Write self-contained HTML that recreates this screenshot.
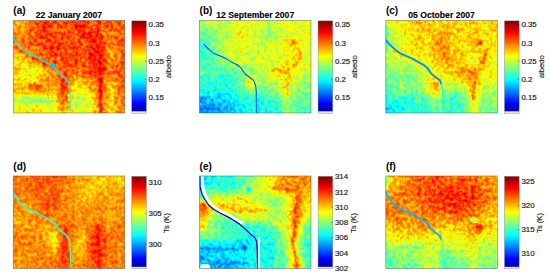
<!DOCTYPE html>
<html><head><meta charset="utf-8"><style>
html,body{margin:0;padding:0;background:#fff;width:550px;height:279px;overflow:hidden}
svg{display:block;font-family:"Liberation Sans", sans-serif}
</style></head><body>
<svg width="550" height="279" viewBox="0 0 550 279">
<defs><linearGradient id="jetg" x1="0" y1="0" x2="0" y2="1"><stop offset="0.0000" stop-color="#800000"/><stop offset="0.0156" stop-color="#8f0000"/><stop offset="0.0312" stop-color="#9e0000"/><stop offset="0.0469" stop-color="#ad0000"/><stop offset="0.0625" stop-color="#bd0000"/><stop offset="0.0781" stop-color="#cc0000"/><stop offset="0.0938" stop-color="#db0000"/><stop offset="0.1094" stop-color="#eb0000"/><stop offset="0.1250" stop-color="#fa0000"/><stop offset="0.1406" stop-color="#ff0a00"/><stop offset="0.1562" stop-color="#ff1a00"/><stop offset="0.1719" stop-color="#ff2900"/><stop offset="0.1875" stop-color="#ff3800"/><stop offset="0.2031" stop-color="#ff4700"/><stop offset="0.2188" stop-color="#ff5700"/><stop offset="0.2344" stop-color="#ff6600"/><stop offset="0.2500" stop-color="#ff7500"/><stop offset="0.2656" stop-color="#ff8500"/><stop offset="0.2812" stop-color="#ff9400"/><stop offset="0.2969" stop-color="#ffa300"/><stop offset="0.3125" stop-color="#ffb300"/><stop offset="0.3281" stop-color="#ffc200"/><stop offset="0.3438" stop-color="#ffd100"/><stop offset="0.3594" stop-color="#ffe000"/><stop offset="0.3750" stop-color="#fff000"/><stop offset="0.3906" stop-color="#ffff00"/><stop offset="0.4062" stop-color="#f0ff0f"/><stop offset="0.4219" stop-color="#e0ff1f"/><stop offset="0.4375" stop-color="#d1ff2e"/><stop offset="0.4531" stop-color="#c2ff3d"/><stop offset="0.4688" stop-color="#b3ff4c"/><stop offset="0.4844" stop-color="#a3ff5c"/><stop offset="0.5000" stop-color="#94ff6b"/><stop offset="0.5156" stop-color="#85ff7a"/><stop offset="0.5312" stop-color="#75ff8a"/><stop offset="0.5469" stop-color="#66ff99"/><stop offset="0.5625" stop-color="#57ffa8"/><stop offset="0.5781" stop-color="#47ffb8"/><stop offset="0.5938" stop-color="#38ffc7"/><stop offset="0.6094" stop-color="#29ffd6"/><stop offset="0.6250" stop-color="#19ffe6"/><stop offset="0.6406" stop-color="#0afff5"/><stop offset="0.6562" stop-color="#00faff"/><stop offset="0.6719" stop-color="#00ebff"/><stop offset="0.6875" stop-color="#00dbff"/><stop offset="0.7031" stop-color="#00ccff"/><stop offset="0.7188" stop-color="#00bdff"/><stop offset="0.7344" stop-color="#00adff"/><stop offset="0.7500" stop-color="#009eff"/><stop offset="0.7656" stop-color="#008fff"/><stop offset="0.7812" stop-color="#0080ff"/><stop offset="0.7969" stop-color="#0070ff"/><stop offset="0.8125" stop-color="#0061ff"/><stop offset="0.8281" stop-color="#0052ff"/><stop offset="0.8438" stop-color="#0042ff"/><stop offset="0.8594" stop-color="#0033ff"/><stop offset="0.8750" stop-color="#0024ff"/><stop offset="0.8906" stop-color="#0014ff"/><stop offset="0.9062" stop-color="#0005ff"/><stop offset="0.9219" stop-color="#0000f5"/><stop offset="0.9375" stop-color="#0000e6"/><stop offset="0.9531" stop-color="#0000d6"/><stop offset="0.9688" stop-color="#0000c7"/><stop offset="0.9844" stop-color="#0000b8"/><stop offset="1.0000" stop-color="#0000a8"/></linearGradient>
<filter id="ff" x="-0.2" y="-0.2" width="1.4" height="1.4" color-interpolation-filters="sRGB"><feGaussianBlur stdDeviation="0.9"/></filter>
<filter id="fs" x="-0.2" y="-0.2" width="1.4" height="1.4"><feGaussianBlur stdDeviation="0.35"/></filter>
<filter id="fb" x="-0.1" y="-0.1" width="1.2" height="1.2" color-interpolation-filters="sRGB"><feGaussianBlur stdDeviation="3.20"/></filter>
<filter id="fja" x="0" y="0" width="1" height="1" filterUnits="objectBoundingBox" color-interpolation-filters="sRGB">
<feTurbulence type="fractalNoise" baseFrequency="0.28" numOctaves="2" seed="3" result="n"/>
<feColorMatrix in="n" type="matrix" values="1 0 0 0 0  1 0 0 0 0  1 0 0 0 0  0 0 0 0 1" result="ng"/>
<feComposite in="SourceGraphic" in2="ng" operator="arithmetic" k1="0" k2="1" k3="0.280" k4="-0.140" result="f"/>
<feComponentTransfer in="f"><feFuncR type="table" tableValues="0 0 0 0 0.5 1 1 1 0.5"/><feFuncG type="table" tableValues="0 0 0.5 1 1 1 0.5 0 0"/><feFuncB type="table" tableValues="0.5 1 1 1 0.5 0 0 0 0"/><feFuncA type="identity"/></feComponentTransfer>
</filter>
<clipPath id="cpa"><rect x="13.20" y="20.40" width="111.50" height="92.60"/></clipPath>
<filter id="fjb" x="0" y="0" width="1" height="1" filterUnits="objectBoundingBox" color-interpolation-filters="sRGB">
<feTurbulence type="fractalNoise" baseFrequency="0.28" numOctaves="2" seed="10" result="n"/>
<feColorMatrix in="n" type="matrix" values="1 0 0 0 0  1 0 0 0 0  1 0 0 0 0  0 0 0 0 1" result="ng"/>
<feComposite in="SourceGraphic" in2="ng" operator="arithmetic" k1="0" k2="1" k3="0.260" k4="-0.130" result="f"/>
<feComponentTransfer in="f"><feFuncR type="table" tableValues="0 0 0 0 0.5 1 1 1 0.5"/><feFuncG type="table" tableValues="0 0 0.5 1 1 1 0.5 0 0"/><feFuncB type="table" tableValues="0.5 1 1 1 0.5 0 0 0 0"/><feFuncA type="identity"/></feComponentTransfer>
</filter>
<clipPath id="cpb"><rect x="199.50" y="20.40" width="111.50" height="92.60"/></clipPath>
<filter id="fjc" x="0" y="0" width="1" height="1" filterUnits="objectBoundingBox" color-interpolation-filters="sRGB">
<feTurbulence type="fractalNoise" baseFrequency="0.28" numOctaves="2" seed="17" result="n"/>
<feColorMatrix in="n" type="matrix" values="1 0 0 0 0  1 0 0 0 0  1 0 0 0 0  0 0 0 0 1" result="ng"/>
<feComposite in="SourceGraphic" in2="ng" operator="arithmetic" k1="0" k2="1" k3="0.260" k4="-0.130" result="f"/>
<feComponentTransfer in="f"><feFuncR type="table" tableValues="0 0 0 0 0.5 1 1 1 0.5"/><feFuncG type="table" tableValues="0 0 0.5 1 1 1 0.5 0 0"/><feFuncB type="table" tableValues="0.5 1 1 1 0.5 0 0 0 0"/><feFuncA type="identity"/></feComponentTransfer>
</filter>
<clipPath id="cpc"><rect x="385.80" y="20.40" width="111.50" height="92.60"/></clipPath>
<filter id="fjd" x="0" y="0" width="1" height="1" filterUnits="objectBoundingBox" color-interpolation-filters="sRGB">
<feTurbulence type="fractalNoise" baseFrequency="0.28" numOctaves="2" seed="24" result="n"/>
<feColorMatrix in="n" type="matrix" values="1 0 0 0 0  1 0 0 0 0  1 0 0 0 0  0 0 0 0 1" result="ng"/>
<feComposite in="SourceGraphic" in2="ng" operator="arithmetic" k1="0" k2="1" k3="0.220" k4="-0.110" result="f"/>
<feComponentTransfer in="f"><feFuncR type="table" tableValues="0 0 0 0 0.5 1 1 1 0.5"/><feFuncG type="table" tableValues="0 0 0.5 1 1 1 0.5 0 0"/><feFuncB type="table" tableValues="0.5 1 1 1 0.5 0 0 0 0"/><feFuncA type="identity"/></feComponentTransfer>
</filter>
<clipPath id="cpd"><rect x="13.20" y="175.95" width="111.50" height="92.60"/></clipPath>
<filter id="fje" x="0" y="0" width="1" height="1" filterUnits="objectBoundingBox" color-interpolation-filters="sRGB">
<feTurbulence type="fractalNoise" baseFrequency="0.28" numOctaves="2" seed="31" result="n"/>
<feColorMatrix in="n" type="matrix" values="1 0 0 0 0  1 0 0 0 0  1 0 0 0 0  0 0 0 0 1" result="ng"/>
<feComposite in="SourceGraphic" in2="ng" operator="arithmetic" k1="0" k2="1" k3="0.260" k4="-0.130" result="f"/>
<feComponentTransfer in="f"><feFuncR type="table" tableValues="0 0 0 0 0.5 1 1 1 0.5"/><feFuncG type="table" tableValues="0 0 0.5 1 1 1 0.5 0 0"/><feFuncB type="table" tableValues="0.5 1 1 1 0.5 0 0 0 0"/><feFuncA type="identity"/></feComponentTransfer>
</filter>
<clipPath id="cpe"><rect x="199.50" y="175.95" width="111.50" height="92.60"/></clipPath>
<filter id="fjf" x="0" y="0" width="1" height="1" filterUnits="objectBoundingBox" color-interpolation-filters="sRGB">
<feTurbulence type="fractalNoise" baseFrequency="0.28" numOctaves="2" seed="38" result="n"/>
<feColorMatrix in="n" type="matrix" values="1 0 0 0 0  1 0 0 0 0  1 0 0 0 0  0 0 0 0 1" result="ng"/>
<feComposite in="SourceGraphic" in2="ng" operator="arithmetic" k1="0" k2="1" k3="0.280" k4="-0.140" result="f"/>
<feComponentTransfer in="f"><feFuncR type="table" tableValues="0 0 0 0 0.5 1 1 1 0.5"/><feFuncG type="table" tableValues="0 0 0.5 1 1 1 0.5 0 0"/><feFuncB type="table" tableValues="0.5 1 1 1 0.5 0 0 0 0"/><feFuncA type="identity"/></feComponentTransfer>
</filter>
<clipPath id="cpf"><rect x="385.80" y="175.95" width="111.50" height="92.60"/></clipPath></defs>
<g clip-path="url(#cpa)"><g filter="url(#fja)"><rect x="13.20" y="20.40" width="111.50" height="92.60" fill="#808080"/><g filter="url(#fb)"><rect x="3.86" y="11.09" width="9.39" height="9.36" fill="#b2b2b2"/><rect x="13.15" y="11.09" width="9.39" height="9.36" fill="#b2b2b2"/><rect x="22.44" y="11.09" width="9.39" height="9.36" fill="#bdbdbd"/><rect x="31.73" y="11.09" width="9.39" height="9.36" fill="#cccccc"/><rect x="41.03" y="11.09" width="9.39" height="9.36" fill="#d6d6d6"/><rect x="50.32" y="11.09" width="9.39" height="9.36" fill="#cccccc"/><rect x="59.61" y="11.09" width="9.39" height="9.36" fill="#cccccc"/><rect x="68.90" y="11.09" width="9.39" height="9.36" fill="#d1d1d1"/><rect x="78.19" y="11.09" width="9.39" height="9.36" fill="#dbdbdb"/><rect x="87.48" y="11.09" width="9.39" height="9.36" fill="#c2c2c2"/><rect x="96.78" y="11.09" width="9.39" height="9.36" fill="#dbdbdb"/><rect x="106.07" y="11.09" width="9.39" height="9.36" fill="#c7c7c7"/><rect x="115.36" y="11.09" width="9.39" height="9.36" fill="#cccccc"/><rect x="124.65" y="11.09" width="9.39" height="9.36" fill="#cccccc"/><rect x="3.86" y="20.35" width="9.39" height="9.36" fill="#b2b2b2"/><rect x="13.15" y="20.35" width="9.39" height="9.36" fill="#b2b2b2"/><rect x="22.44" y="20.35" width="9.39" height="9.36" fill="#bdbdbd"/><rect x="31.73" y="20.35" width="9.39" height="9.36" fill="#cccccc"/><rect x="41.03" y="20.35" width="9.39" height="9.36" fill="#d6d6d6"/><rect x="50.32" y="20.35" width="9.39" height="9.36" fill="#cccccc"/><rect x="59.61" y="20.35" width="9.39" height="9.36" fill="#cccccc"/><rect x="68.90" y="20.35" width="9.39" height="9.36" fill="#d1d1d1"/><rect x="78.19" y="20.35" width="9.39" height="9.36" fill="#dbdbdb"/><rect x="87.48" y="20.35" width="9.39" height="9.36" fill="#c2c2c2"/><rect x="96.78" y="20.35" width="9.39" height="9.36" fill="#dbdbdb"/><rect x="106.07" y="20.35" width="9.39" height="9.36" fill="#c7c7c7"/><rect x="115.36" y="20.35" width="9.39" height="9.36" fill="#cccccc"/><rect x="124.65" y="20.35" width="9.39" height="9.36" fill="#cccccc"/><rect x="3.86" y="29.61" width="9.39" height="9.36" fill="#b8b8b8"/><rect x="13.15" y="29.61" width="9.39" height="9.36" fill="#b8b8b8"/><rect x="22.44" y="29.61" width="9.39" height="9.36" fill="#c2c2c2"/><rect x="31.73" y="29.61" width="9.39" height="9.36" fill="#cccccc"/><rect x="41.03" y="29.61" width="9.39" height="9.36" fill="#d6d6d6"/><rect x="50.32" y="29.61" width="9.39" height="9.36" fill="#c7c7c7"/><rect x="59.61" y="29.61" width="9.39" height="9.36" fill="#cccccc"/><rect x="68.90" y="29.61" width="9.39" height="9.36" fill="#c7c7c7"/><rect x="78.19" y="29.61" width="9.39" height="9.36" fill="#dbdbdb"/><rect x="87.48" y="29.61" width="9.39" height="9.36" fill="#dbdbdb"/><rect x="96.78" y="29.61" width="9.39" height="9.36" fill="#d1d1d1"/><rect x="106.07" y="29.61" width="9.39" height="9.36" fill="#bdbdbd"/><rect x="115.36" y="29.61" width="9.39" height="9.36" fill="#c7c7c7"/><rect x="124.65" y="29.61" width="9.39" height="9.36" fill="#c7c7c7"/><rect x="3.86" y="38.87" width="9.39" height="9.36" fill="#bdbdbd"/><rect x="13.15" y="38.87" width="9.39" height="9.36" fill="#bdbdbd"/><rect x="22.44" y="38.87" width="9.39" height="9.36" fill="#cccccc"/><rect x="31.73" y="38.87" width="9.39" height="9.36" fill="#c7c7c7"/><rect x="41.03" y="38.87" width="9.39" height="9.36" fill="#d1d1d1"/><rect x="50.32" y="38.87" width="9.39" height="9.36" fill="#d6d6d6"/><rect x="59.61" y="38.87" width="9.39" height="9.36" fill="#cccccc"/><rect x="68.90" y="38.87" width="9.39" height="9.36" fill="#d1d1d1"/><rect x="78.19" y="38.87" width="9.39" height="9.36" fill="#c7c7c7"/><rect x="87.48" y="38.87" width="9.39" height="9.36" fill="#d6d6d6"/><rect x="96.78" y="38.87" width="9.39" height="9.36" fill="#dbdbdb"/><rect x="106.07" y="38.87" width="9.39" height="9.36" fill="#c2c2c2"/><rect x="115.36" y="38.87" width="9.39" height="9.36" fill="#cccccc"/><rect x="124.65" y="38.87" width="9.39" height="9.36" fill="#cccccc"/><rect x="3.86" y="48.13" width="9.39" height="9.36" fill="#b2b2b2"/><rect x="13.15" y="48.13" width="9.39" height="9.36" fill="#b2b2b2"/><rect x="22.44" y="48.13" width="9.39" height="9.36" fill="#b8b8b8"/><rect x="31.73" y="48.13" width="9.39" height="9.36" fill="#c2c2c2"/><rect x="41.03" y="48.13" width="9.39" height="9.36" fill="#cccccc"/><rect x="50.32" y="48.13" width="9.39" height="9.36" fill="#d6d6d6"/><rect x="59.61" y="48.13" width="9.39" height="9.36" fill="#cccccc"/><rect x="68.90" y="48.13" width="9.39" height="9.36" fill="#cccccc"/><rect x="78.19" y="48.13" width="9.39" height="9.36" fill="#d1d1d1"/><rect x="87.48" y="48.13" width="9.39" height="9.36" fill="#dbdbdb"/><rect x="96.78" y="48.13" width="9.39" height="9.36" fill="#d6d6d6"/><rect x="106.07" y="48.13" width="9.39" height="9.36" fill="#b8b8b8"/><rect x="115.36" y="48.13" width="9.39" height="9.36" fill="#c7c7c7"/><rect x="124.65" y="48.13" width="9.39" height="9.36" fill="#c7c7c7"/><rect x="3.86" y="57.39" width="9.39" height="9.36" fill="#a6a6a6"/><rect x="13.15" y="57.39" width="9.39" height="9.36" fill="#a6a6a6"/><rect x="22.44" y="57.39" width="9.39" height="9.36" fill="#adadad"/><rect x="31.73" y="57.39" width="9.39" height="9.36" fill="#bababa"/><rect x="41.03" y="57.39" width="9.39" height="9.36" fill="#c7c7c7"/><rect x="50.32" y="57.39" width="9.39" height="9.36" fill="#cccccc"/><rect x="59.61" y="57.39" width="9.39" height="9.36" fill="#cccccc"/><rect x="68.90" y="57.39" width="9.39" height="9.36" fill="#d6d6d6"/><rect x="78.19" y="57.39" width="9.39" height="9.36" fill="#c7c7c7"/><rect x="87.48" y="57.39" width="9.39" height="9.36" fill="#d6d6d6"/><rect x="96.78" y="57.39" width="9.39" height="9.36" fill="#dbdbdb"/><rect x="106.07" y="57.39" width="9.39" height="9.36" fill="#bdbdbd"/><rect x="115.36" y="57.39" width="9.39" height="9.36" fill="#cccccc"/><rect x="124.65" y="57.39" width="9.39" height="9.36" fill="#cccccc"/><rect x="3.86" y="66.65" width="9.39" height="9.36" fill="#adadad"/><rect x="13.15" y="66.65" width="9.39" height="9.36" fill="#adadad"/><rect x="22.44" y="66.65" width="9.39" height="9.36" fill="#9c9c9c"/><rect x="31.73" y="66.65" width="9.39" height="9.36" fill="#9c9c9c"/><rect x="41.03" y="66.65" width="9.39" height="9.36" fill="#b0b0b0"/><rect x="50.32" y="66.65" width="9.39" height="9.36" fill="#b8b8b8"/><rect x="59.61" y="66.65" width="9.39" height="9.36" fill="#d1d1d1"/><rect x="68.90" y="66.65" width="9.39" height="9.36" fill="#c2c2c2"/><rect x="78.19" y="66.65" width="9.39" height="9.36" fill="#cccccc"/><rect x="87.48" y="66.65" width="9.39" height="9.36" fill="#d1d1d1"/><rect x="96.78" y="66.65" width="9.39" height="9.36" fill="#dbdbdb"/><rect x="106.07" y="66.65" width="9.39" height="9.36" fill="#c2c2c2"/><rect x="115.36" y="66.65" width="9.39" height="9.36" fill="#d1d1d1"/><rect x="124.65" y="66.65" width="9.39" height="9.36" fill="#d1d1d1"/><rect x="3.86" y="75.91" width="9.39" height="9.36" fill="#a6a6a6"/><rect x="13.15" y="75.91" width="9.39" height="9.36" fill="#a6a6a6"/><rect x="22.44" y="75.91" width="9.39" height="9.36" fill="#9c9c9c"/><rect x="31.73" y="75.91" width="9.39" height="9.36" fill="#a6a6a6"/><rect x="41.03" y="75.91" width="9.39" height="9.36" fill="#bababa"/><rect x="50.32" y="75.91" width="9.39" height="9.36" fill="#bdbdbd"/><rect x="59.61" y="75.91" width="9.39" height="9.36" fill="#d6d6d6"/><rect x="68.90" y="75.91" width="9.39" height="9.36" fill="#adadad"/><rect x="78.19" y="75.91" width="9.39" height="9.36" fill="#b8b8b8"/><rect x="87.48" y="75.91" width="9.39" height="9.36" fill="#bdbdbd"/><rect x="96.78" y="75.91" width="9.39" height="9.36" fill="#d6d6d6"/><rect x="106.07" y="75.91" width="9.39" height="9.36" fill="#b2b2b2"/><rect x="115.36" y="75.91" width="9.39" height="9.36" fill="#c7c7c7"/><rect x="124.65" y="75.91" width="9.39" height="9.36" fill="#c7c7c7"/><rect x="3.86" y="85.17" width="9.39" height="9.36" fill="#b8b8b8"/><rect x="13.15" y="85.17" width="9.39" height="9.36" fill="#b8b8b8"/><rect x="22.44" y="85.17" width="9.39" height="9.36" fill="#bdbdbd"/><rect x="31.73" y="85.17" width="9.39" height="9.36" fill="#c7c7c7"/><rect x="41.03" y="85.17" width="9.39" height="9.36" fill="#bdbdbd"/><rect x="50.32" y="85.17" width="9.39" height="9.36" fill="#b2b2b2"/><rect x="59.61" y="85.17" width="9.39" height="9.36" fill="#dbdbdb"/><rect x="68.90" y="85.17" width="9.39" height="9.36" fill="#a3a3a3"/><rect x="78.19" y="85.17" width="9.39" height="9.36" fill="#a3a3a3"/><rect x="87.48" y="85.17" width="9.39" height="9.36" fill="#b2b2b2"/><rect x="96.78" y="85.17" width="9.39" height="9.36" fill="#d6d6d6"/><rect x="106.07" y="85.17" width="9.39" height="9.36" fill="#a8a8a8"/><rect x="115.36" y="85.17" width="9.39" height="9.36" fill="#c7c7c7"/><rect x="124.65" y="85.17" width="9.39" height="9.36" fill="#c7c7c7"/><rect x="3.86" y="94.43" width="9.39" height="9.36" fill="#949494"/><rect x="13.15" y="94.43" width="9.39" height="9.36" fill="#949494"/><rect x="22.44" y="94.43" width="9.39" height="9.36" fill="#808080"/><rect x="31.73" y="94.43" width="9.39" height="9.36" fill="#858585"/><rect x="41.03" y="94.43" width="9.39" height="9.36" fill="#8f8f8f"/><rect x="50.32" y="94.43" width="9.39" height="9.36" fill="#9e9e9e"/><rect x="59.61" y="94.43" width="9.39" height="9.36" fill="#d1d1d1"/><rect x="68.90" y="94.43" width="9.39" height="9.36" fill="#949494"/><rect x="78.19" y="94.43" width="9.39" height="9.36" fill="#8c8c8c"/><rect x="87.48" y="94.43" width="9.39" height="9.36" fill="#9e9e9e"/><rect x="96.78" y="94.43" width="9.39" height="9.36" fill="#cccccc"/><rect x="106.07" y="94.43" width="9.39" height="9.36" fill="#a8a8a8"/><rect x="115.36" y="94.43" width="9.39" height="9.36" fill="#c2c2c2"/><rect x="124.65" y="94.43" width="9.39" height="9.36" fill="#c2c2c2"/><rect x="3.86" y="103.69" width="9.39" height="9.36" fill="#9e9e9e"/><rect x="13.15" y="103.69" width="9.39" height="9.36" fill="#9e9e9e"/><rect x="22.44" y="103.69" width="9.39" height="9.36" fill="#a3a3a3"/><rect x="31.73" y="103.69" width="9.39" height="9.36" fill="#a8a8a8"/><rect x="41.03" y="103.69" width="9.39" height="9.36" fill="#9e9e9e"/><rect x="50.32" y="103.69" width="9.39" height="9.36" fill="#9e9e9e"/><rect x="59.61" y="103.69" width="9.39" height="9.36" fill="#bdbdbd"/><rect x="68.90" y="103.69" width="9.39" height="9.36" fill="#999999"/><rect x="78.19" y="103.69" width="9.39" height="9.36" fill="#949494"/><rect x="87.48" y="103.69" width="9.39" height="9.36" fill="#9e9e9e"/><rect x="96.78" y="103.69" width="9.39" height="9.36" fill="#c7c7c7"/><rect x="106.07" y="103.69" width="9.39" height="9.36" fill="#a3a3a3"/><rect x="115.36" y="103.69" width="9.39" height="9.36" fill="#bdbdbd"/><rect x="124.65" y="103.69" width="9.39" height="9.36" fill="#bdbdbd"/><rect x="3.86" y="112.95" width="9.39" height="9.36" fill="#9e9e9e"/><rect x="13.15" y="112.95" width="9.39" height="9.36" fill="#9e9e9e"/><rect x="22.44" y="112.95" width="9.39" height="9.36" fill="#a3a3a3"/><rect x="31.73" y="112.95" width="9.39" height="9.36" fill="#a8a8a8"/><rect x="41.03" y="112.95" width="9.39" height="9.36" fill="#9e9e9e"/><rect x="50.32" y="112.95" width="9.39" height="9.36" fill="#9e9e9e"/><rect x="59.61" y="112.95" width="9.39" height="9.36" fill="#bdbdbd"/><rect x="68.90" y="112.95" width="9.39" height="9.36" fill="#999999"/><rect x="78.19" y="112.95" width="9.39" height="9.36" fill="#949494"/><rect x="87.48" y="112.95" width="9.39" height="9.36" fill="#9e9e9e"/><rect x="96.78" y="112.95" width="9.39" height="9.36" fill="#c7c7c7"/><rect x="106.07" y="112.95" width="9.39" height="9.36" fill="#a3a3a3"/><rect x="115.36" y="112.95" width="9.39" height="9.36" fill="#bdbdbd"/><rect x="124.65" y="112.95" width="9.39" height="9.36" fill="#bdbdbd"/></g><g filter="url(#ff)"><polyline points="13.04,41.20 15.88,45.81 19.57,49.63 22.73,52.67 26.59,55.41 31.78,57.71 38.56,60.65 44.99,64.41 50.16,67.05" fill="none" stroke="#dbdbdb" stroke-width="1.30" stroke-linejoin="round" stroke-linecap="round"/><polyline points="102.20,19.40 103.90,33.60 107.20,46.70 110.50,56.60 108.80,66.40 105.50,76.40 103.90,89.40 102.20,113.40" fill="none" stroke="#adadad" stroke-width="1.40" stroke-linejoin="round" stroke-linecap="round"/><polyline points="99.70,54.40 100.20,70.40 100.70,90.40 100.70,112.40" fill="none" stroke="#e6e6e6" stroke-width="2.20" stroke-linejoin="round" stroke-linecap="round"/><polyline points="112.10,40.10 115.40,50.00 118.70,63.20" fill="none" stroke="#b2b2b2" stroke-width="1.20" stroke-linejoin="round" stroke-linecap="round"/><polyline points="21.20,101.40 27.20,102.20 33.20,100.90 41.20,101.60 53.20,100.90" fill="none" stroke="#737373" stroke-width="1.80" stroke-linejoin="round" stroke-linecap="round"/><ellipse cx="35.20" cy="86.40" rx="6.00" ry="2.50" fill="#d1d1d1"/></g></g></g>
<g clip-path="url(#cpa)" transform="translate(0.00,0.00)">
<g transform="translate(13.20,20.40)">
<polyline points="-1.00,13.80 1.80,19.60 4.50,24.00 8.00,27.60 11.00,30.50 14.50,33.00 19.50,35.20 26.40,38.20 32.90,42.00 38.00,44.60 41.50,47.50 45.50,53.30 50.30,57.10 54.10,60.00 55.60,63.70" fill="none" stroke="#00e5ff" stroke-width="1.25" stroke-opacity="1.00" stroke-linejoin="round" stroke-linecap="round" filter="url(#fs)"/>
<polyline points="55.60,63.70 56.60,67.50 57.00,71.30 57.20,78.90 57.50,86.50 57.80,93.00" fill="none" stroke="#2effd1" stroke-width="0.90" stroke-opacity="1.00" stroke-linejoin="round" stroke-linecap="round" filter="url(#fs)"/>
<ellipse cx="39.5" cy="44.8" rx="3.0" ry="1.9" transform="rotate(30 39.5 44.8)" fill="#00c7ff" filter="url(#fs)"/>
</g></g>
<rect x="13.20" y="20.40" width="111.50" height="92.60" fill="none" stroke="#444" stroke-width="0.6" stroke-opacity="0.7"/>
<text x="13.30" y="14.10" font-size="10" font-weight="bold" fill="#000">(a)</text>
<text x="68.95" y="17.60" font-size="8.6" font-weight="bold" fill="#000" stroke="#000" stroke-width="0.12" text-anchor="middle">22 January 2007</text>
<rect x="131.80" y="20.90" width="14.50" height="92.30" fill="#ececf0"/>
<rect x="131.80" y="20.90" width="14.50" height="90.40" fill="url(#jetg)"/>
<rect x="131.80" y="20.90" width="14.50" height="92.30" fill="none" stroke="#666" stroke-width="0.5" stroke-opacity="0.7"/>
<line x1="144.90" y1="24.55" x2="146.30" y2="24.55" stroke="#222" stroke-width="0.6" stroke-opacity="0.8"/>
<text x="148.60" y="27.30" font-size="7.9" fill="#222" stroke="#222" stroke-width="0.18">0.35</text>
<line x1="144.90" y1="42.80" x2="146.30" y2="42.80" stroke="#222" stroke-width="0.6" stroke-opacity="0.8"/>
<text x="148.60" y="45.55" font-size="7.9" fill="#222" stroke="#222" stroke-width="0.18">0.3</text>
<line x1="144.90" y1="61.05" x2="146.30" y2="61.05" stroke="#222" stroke-width="0.6" stroke-opacity="0.8"/>
<text x="148.60" y="63.80" font-size="7.9" fill="#222" stroke="#222" stroke-width="0.18">0.25</text>
<line x1="144.90" y1="79.30" x2="146.30" y2="79.30" stroke="#222" stroke-width="0.6" stroke-opacity="0.8"/>
<text x="148.60" y="82.05" font-size="7.9" fill="#222" stroke="#222" stroke-width="0.18">0.2</text>
<line x1="144.90" y1="97.55" x2="146.30" y2="97.55" stroke="#222" stroke-width="0.6" stroke-opacity="0.8"/>
<text x="148.60" y="100.30" font-size="7.9" fill="#222" stroke="#222" stroke-width="0.18">0.15</text>
<text x="0" y="0" font-size="7.6" fill="#222" stroke="#222" stroke-width="0.15" text-anchor="middle" transform="translate(171.00,66.70) rotate(-90)">albedo</text>
<g clip-path="url(#cpb)"><g filter="url(#fjb)"><rect x="199.50" y="20.40" width="111.50" height="92.60" fill="#808080"/><g filter="url(#fb)"><rect x="190.16" y="11.09" width="9.39" height="9.36" fill="#858585"/><rect x="199.45" y="11.09" width="9.39" height="9.36" fill="#858585"/><rect x="208.74" y="11.09" width="9.39" height="9.36" fill="#949494"/><rect x="218.03" y="11.09" width="9.39" height="9.36" fill="#8c8c8c"/><rect x="227.32" y="11.09" width="9.39" height="9.36" fill="#999999"/><rect x="236.62" y="11.09" width="9.39" height="9.36" fill="#999999"/><rect x="245.91" y="11.09" width="9.39" height="9.36" fill="#999999"/><rect x="255.20" y="11.09" width="9.39" height="9.36" fill="#999999"/><rect x="264.49" y="11.09" width="9.39" height="9.36" fill="#8f8f8f"/><rect x="273.78" y="11.09" width="9.39" height="9.36" fill="#949494"/><rect x="283.07" y="11.09" width="9.39" height="9.36" fill="#999999"/><rect x="292.37" y="11.09" width="9.39" height="9.36" fill="#999999"/><rect x="301.66" y="11.09" width="9.39" height="9.36" fill="#999999"/><rect x="310.95" y="11.09" width="9.39" height="9.36" fill="#999999"/><rect x="190.16" y="20.35" width="9.39" height="9.36" fill="#858585"/><rect x="199.45" y="20.35" width="9.39" height="9.36" fill="#858585"/><rect x="208.74" y="20.35" width="9.39" height="9.36" fill="#949494"/><rect x="218.03" y="20.35" width="9.39" height="9.36" fill="#8c8c8c"/><rect x="227.32" y="20.35" width="9.39" height="9.36" fill="#999999"/><rect x="236.62" y="20.35" width="9.39" height="9.36" fill="#999999"/><rect x="245.91" y="20.35" width="9.39" height="9.36" fill="#999999"/><rect x="255.20" y="20.35" width="9.39" height="9.36" fill="#999999"/><rect x="264.49" y="20.35" width="9.39" height="9.36" fill="#8f8f8f"/><rect x="273.78" y="20.35" width="9.39" height="9.36" fill="#949494"/><rect x="283.07" y="20.35" width="9.39" height="9.36" fill="#999999"/><rect x="292.37" y="20.35" width="9.39" height="9.36" fill="#999999"/><rect x="301.66" y="20.35" width="9.39" height="9.36" fill="#999999"/><rect x="310.95" y="20.35" width="9.39" height="9.36" fill="#999999"/><rect x="190.16" y="29.61" width="9.39" height="9.36" fill="#787878"/><rect x="199.45" y="29.61" width="9.39" height="9.36" fill="#787878"/><rect x="208.74" y="29.61" width="9.39" height="9.36" fill="#808080"/><rect x="218.03" y="29.61" width="9.39" height="9.36" fill="#8c8c8c"/><rect x="227.32" y="29.61" width="9.39" height="9.36" fill="#8f8f8f"/><rect x="236.62" y="29.61" width="9.39" height="9.36" fill="#a3a3a3"/><rect x="245.91" y="29.61" width="9.39" height="9.36" fill="#999999"/><rect x="255.20" y="29.61" width="9.39" height="9.36" fill="#8f8f8f"/><rect x="264.49" y="29.61" width="9.39" height="9.36" fill="#808080"/><rect x="273.78" y="29.61" width="9.39" height="9.36" fill="#8f8f8f"/><rect x="283.07" y="29.61" width="9.39" height="9.36" fill="#999999"/><rect x="292.37" y="29.61" width="9.39" height="9.36" fill="#9e9e9e"/><rect x="301.66" y="29.61" width="9.39" height="9.36" fill="#999999"/><rect x="310.95" y="29.61" width="9.39" height="9.36" fill="#999999"/><rect x="190.16" y="38.87" width="9.39" height="9.36" fill="#6e6e6e"/><rect x="199.45" y="38.87" width="9.39" height="9.36" fill="#6e6e6e"/><rect x="208.74" y="38.87" width="9.39" height="9.36" fill="#808080"/><rect x="218.03" y="38.87" width="9.39" height="9.36" fill="#8c8c8c"/><rect x="227.32" y="38.87" width="9.39" height="9.36" fill="#999999"/><rect x="236.62" y="38.87" width="9.39" height="9.36" fill="#999999"/><rect x="245.91" y="38.87" width="9.39" height="9.36" fill="#999999"/><rect x="255.20" y="38.87" width="9.39" height="9.36" fill="#8f8f8f"/><rect x="264.49" y="38.87" width="9.39" height="9.36" fill="#949494"/><rect x="273.78" y="38.87" width="9.39" height="9.36" fill="#999999"/><rect x="283.07" y="38.87" width="9.39" height="9.36" fill="#a8a8a8"/><rect x="292.37" y="38.87" width="9.39" height="9.36" fill="#9e9e9e"/><rect x="301.66" y="38.87" width="9.39" height="9.36" fill="#999999"/><rect x="310.95" y="38.87" width="9.39" height="9.36" fill="#999999"/><rect x="190.16" y="48.13" width="9.39" height="9.36" fill="#6b6b6b"/><rect x="199.45" y="48.13" width="9.39" height="9.36" fill="#6b6b6b"/><rect x="208.74" y="48.13" width="9.39" height="9.36" fill="#787878"/><rect x="218.03" y="48.13" width="9.39" height="9.36" fill="#8c8c8c"/><rect x="227.32" y="48.13" width="9.39" height="9.36" fill="#999999"/><rect x="236.62" y="48.13" width="9.39" height="9.36" fill="#999999"/><rect x="245.91" y="48.13" width="9.39" height="9.36" fill="#8f8f8f"/><rect x="255.20" y="48.13" width="9.39" height="9.36" fill="#999999"/><rect x="264.49" y="48.13" width="9.39" height="9.36" fill="#999999"/><rect x="273.78" y="48.13" width="9.39" height="9.36" fill="#999999"/><rect x="283.07" y="48.13" width="9.39" height="9.36" fill="#9e9e9e"/><rect x="292.37" y="48.13" width="9.39" height="9.36" fill="#a8a8a8"/><rect x="301.66" y="48.13" width="9.39" height="9.36" fill="#949494"/><rect x="310.95" y="48.13" width="9.39" height="9.36" fill="#949494"/><rect x="190.16" y="57.39" width="9.39" height="9.36" fill="#6b6b6b"/><rect x="199.45" y="57.39" width="9.39" height="9.36" fill="#6b6b6b"/><rect x="208.74" y="57.39" width="9.39" height="9.36" fill="#757575"/><rect x="218.03" y="57.39" width="9.39" height="9.36" fill="#808080"/><rect x="227.32" y="57.39" width="9.39" height="9.36" fill="#8c8c8c"/><rect x="236.62" y="57.39" width="9.39" height="9.36" fill="#999999"/><rect x="245.91" y="57.39" width="9.39" height="9.36" fill="#8f8f8f"/><rect x="255.20" y="57.39" width="9.39" height="9.36" fill="#999999"/><rect x="264.49" y="57.39" width="9.39" height="9.36" fill="#949494"/><rect x="273.78" y="57.39" width="9.39" height="9.36" fill="#999999"/><rect x="283.07" y="57.39" width="9.39" height="9.36" fill="#a1a1a1"/><rect x="292.37" y="57.39" width="9.39" height="9.36" fill="#a8a8a8"/><rect x="301.66" y="57.39" width="9.39" height="9.36" fill="#949494"/><rect x="310.95" y="57.39" width="9.39" height="9.36" fill="#949494"/><rect x="190.16" y="66.65" width="9.39" height="9.36" fill="#737373"/><rect x="199.45" y="66.65" width="9.39" height="9.36" fill="#737373"/><rect x="208.74" y="66.65" width="9.39" height="9.36" fill="#787878"/><rect x="218.03" y="66.65" width="9.39" height="9.36" fill="#707070"/><rect x="227.32" y="66.65" width="9.39" height="9.36" fill="#757575"/><rect x="236.62" y="66.65" width="9.39" height="9.36" fill="#808080"/><rect x="245.91" y="66.65" width="9.39" height="9.36" fill="#858585"/><rect x="255.20" y="66.65" width="9.39" height="9.36" fill="#8c8c8c"/><rect x="264.49" y="66.65" width="9.39" height="9.36" fill="#999999"/><rect x="273.78" y="66.65" width="9.39" height="9.36" fill="#a8a8a8"/><rect x="283.07" y="66.65" width="9.39" height="9.36" fill="#adadad"/><rect x="292.37" y="66.65" width="9.39" height="9.36" fill="#999999"/><rect x="301.66" y="66.65" width="9.39" height="9.36" fill="#949494"/><rect x="310.95" y="66.65" width="9.39" height="9.36" fill="#949494"/><rect x="190.16" y="75.91" width="9.39" height="9.36" fill="#6b6b6b"/><rect x="199.45" y="75.91" width="9.39" height="9.36" fill="#6b6b6b"/><rect x="208.74" y="75.91" width="9.39" height="9.36" fill="#6b6b6b"/><rect x="218.03" y="75.91" width="9.39" height="9.36" fill="#666666"/><rect x="227.32" y="75.91" width="9.39" height="9.36" fill="#6b6b6b"/><rect x="236.62" y="75.91" width="9.39" height="9.36" fill="#7a7a7a"/><rect x="245.91" y="75.91" width="9.39" height="9.36" fill="#949494"/><rect x="255.20" y="75.91" width="9.39" height="9.36" fill="#8c8c8c"/><rect x="264.49" y="75.91" width="9.39" height="9.36" fill="#8c8c8c"/><rect x="273.78" y="75.91" width="9.39" height="9.36" fill="#999999"/><rect x="283.07" y="75.91" width="9.39" height="9.36" fill="#a6a6a6"/><rect x="292.37" y="75.91" width="9.39" height="9.36" fill="#8c8c8c"/><rect x="301.66" y="75.91" width="9.39" height="9.36" fill="#858585"/><rect x="310.95" y="75.91" width="9.39" height="9.36" fill="#858585"/><rect x="190.16" y="85.17" width="9.39" height="9.36" fill="#666666"/><rect x="199.45" y="85.17" width="9.39" height="9.36" fill="#666666"/><rect x="208.74" y="85.17" width="9.39" height="9.36" fill="#666666"/><rect x="218.03" y="85.17" width="9.39" height="9.36" fill="#616161"/><rect x="227.32" y="85.17" width="9.39" height="9.36" fill="#666666"/><rect x="236.62" y="85.17" width="9.39" height="9.36" fill="#737373"/><rect x="245.91" y="85.17" width="9.39" height="9.36" fill="#8c8c8c"/><rect x="255.20" y="85.17" width="9.39" height="9.36" fill="#7a7a7a"/><rect x="264.49" y="85.17" width="9.39" height="9.36" fill="#808080"/><rect x="273.78" y="85.17" width="9.39" height="9.36" fill="#8c8c8c"/><rect x="283.07" y="85.17" width="9.39" height="9.36" fill="#a3a3a3"/><rect x="292.37" y="85.17" width="9.39" height="9.36" fill="#858585"/><rect x="301.66" y="85.17" width="9.39" height="9.36" fill="#808080"/><rect x="310.95" y="85.17" width="9.39" height="9.36" fill="#808080"/><rect x="190.16" y="94.43" width="9.39" height="9.36" fill="#4c4c4c"/><rect x="199.45" y="94.43" width="9.39" height="9.36" fill="#4c4c4c"/><rect x="208.74" y="94.43" width="9.39" height="9.36" fill="#545454"/><rect x="218.03" y="94.43" width="9.39" height="9.36" fill="#545454"/><rect x="227.32" y="94.43" width="9.39" height="9.36" fill="#5c5c5c"/><rect x="236.62" y="94.43" width="9.39" height="9.36" fill="#666666"/><rect x="245.91" y="94.43" width="9.39" height="9.36" fill="#6b6b6b"/><rect x="255.20" y="94.43" width="9.39" height="9.36" fill="#666666"/><rect x="264.49" y="94.43" width="9.39" height="9.36" fill="#6b6b6b"/><rect x="273.78" y="94.43" width="9.39" height="9.36" fill="#757575"/><rect x="283.07" y="94.43" width="9.39" height="9.36" fill="#949494"/><rect x="292.37" y="94.43" width="9.39" height="9.36" fill="#7a7a7a"/><rect x="301.66" y="94.43" width="9.39" height="9.36" fill="#787878"/><rect x="310.95" y="94.43" width="9.39" height="9.36" fill="#787878"/><rect x="190.16" y="103.69" width="9.39" height="9.36" fill="#404040"/><rect x="199.45" y="103.69" width="9.39" height="9.36" fill="#404040"/><rect x="208.74" y="103.69" width="9.39" height="9.36" fill="#454545"/><rect x="218.03" y="103.69" width="9.39" height="9.36" fill="#4c4c4c"/><rect x="227.32" y="103.69" width="9.39" height="9.36" fill="#4c4c4c"/><rect x="236.62" y="103.69" width="9.39" height="9.36" fill="#595959"/><rect x="245.91" y="103.69" width="9.39" height="9.36" fill="#666666"/><rect x="255.20" y="103.69" width="9.39" height="9.36" fill="#616161"/><rect x="264.49" y="103.69" width="9.39" height="9.36" fill="#666666"/><rect x="273.78" y="103.69" width="9.39" height="9.36" fill="#6b6b6b"/><rect x="283.07" y="103.69" width="9.39" height="9.36" fill="#858585"/><rect x="292.37" y="103.69" width="9.39" height="9.36" fill="#757575"/><rect x="301.66" y="103.69" width="9.39" height="9.36" fill="#757575"/><rect x="310.95" y="103.69" width="9.39" height="9.36" fill="#757575"/><rect x="190.16" y="112.95" width="9.39" height="9.36" fill="#404040"/><rect x="199.45" y="112.95" width="9.39" height="9.36" fill="#404040"/><rect x="208.74" y="112.95" width="9.39" height="9.36" fill="#454545"/><rect x="218.03" y="112.95" width="9.39" height="9.36" fill="#4c4c4c"/><rect x="227.32" y="112.95" width="9.39" height="9.36" fill="#4c4c4c"/><rect x="236.62" y="112.95" width="9.39" height="9.36" fill="#595959"/><rect x="245.91" y="112.95" width="9.39" height="9.36" fill="#666666"/><rect x="255.20" y="112.95" width="9.39" height="9.36" fill="#616161"/><rect x="264.49" y="112.95" width="9.39" height="9.36" fill="#666666"/><rect x="273.78" y="112.95" width="9.39" height="9.36" fill="#6b6b6b"/><rect x="283.07" y="112.95" width="9.39" height="9.36" fill="#858585"/><rect x="292.37" y="112.95" width="9.39" height="9.36" fill="#757575"/><rect x="301.66" y="112.95" width="9.39" height="9.36" fill="#757575"/><rect x="310.95" y="112.95" width="9.39" height="9.36" fill="#757575"/></g><g filter="url(#ff)"><ellipse cx="293.30" cy="42.80" rx="3.00" ry="2.50" fill="#c7c7c7"/><polyline points="299.00,47.40 300.00,52.40 299.00,57.40 297.00,62.40 293.50,66.40" fill="none" stroke="#c2c2c2" stroke-width="2.20" stroke-linejoin="round" stroke-linecap="round"/><polyline points="271.50,70.40 279.50,69.90 287.50,72.40" fill="none" stroke="#b8b8b8" stroke-width="2.20" stroke-linejoin="round" stroke-linecap="round"/><polyline points="289.50,67.40 288.00,75.40 287.50,85.40 287.00,96.40" fill="none" stroke="#b8b8b8" stroke-width="2.20" stroke-linejoin="round" stroke-linecap="round"/><polyline points="291.50,84.40 291.00,100.40 290.50,113.40" fill="none" stroke="#6b6b6b" stroke-width="0.90" stroke-linejoin="round" stroke-linecap="round"/><ellipse cx="240.50" cy="34.40" rx="3.50" ry="2.00" fill="#adadad"/><ellipse cx="250.00" cy="83.40" rx="3.50" ry="4.50" fill="#a3a3a3"/></g></g></g>
<g clip-path="url(#cpb)" transform="translate(0.00,0.00)">
<g transform="translate(199.50,20.40)">
<polyline points="4.50,24.00 8.00,27.60 11.00,30.50 14.50,33.00 19.50,35.20 26.40,38.20 32.90,42.00 38.00,44.60 41.50,47.50 45.50,53.30 50.30,57.10 54.10,60.00 55.60,63.70" fill="none" stroke="#004dff" stroke-width="1.10" stroke-opacity="1.00" stroke-linejoin="round" stroke-linecap="round" filter="url(#fs)"/>
<polyline points="55.60,63.70 56.50,67.50 56.79,71.30 56.78,78.90 56.88,86.50 57.00,93.00" fill="none" stroke="#0061ff" stroke-width="1.10" stroke-opacity="1.00" stroke-linejoin="round" stroke-linecap="round" filter="url(#fs)"/>
</g></g>
<rect x="199.50" y="20.40" width="111.50" height="92.60" fill="none" stroke="#444" stroke-width="0.6" stroke-opacity="0.7"/>
<text x="199.60" y="14.10" font-size="10" font-weight="bold" fill="#000">(b)</text>
<text x="255.25" y="17.60" font-size="8.6" font-weight="bold" fill="#000" stroke="#000" stroke-width="0.12" text-anchor="middle">12 September 2007</text>
<rect x="318.10" y="20.90" width="14.50" height="92.30" fill="#ececf0"/>
<rect x="318.10" y="20.90" width="14.50" height="90.40" fill="url(#jetg)"/>
<rect x="318.10" y="20.90" width="14.50" height="92.30" fill="none" stroke="#666" stroke-width="0.5" stroke-opacity="0.7"/>
<line x1="331.20" y1="24.55" x2="332.60" y2="24.55" stroke="#222" stroke-width="0.6" stroke-opacity="0.8"/>
<text x="334.90" y="27.30" font-size="7.9" fill="#222" stroke="#222" stroke-width="0.18">0.35</text>
<line x1="331.20" y1="42.80" x2="332.60" y2="42.80" stroke="#222" stroke-width="0.6" stroke-opacity="0.8"/>
<text x="334.90" y="45.55" font-size="7.9" fill="#222" stroke="#222" stroke-width="0.18">0.3</text>
<line x1="331.20" y1="61.05" x2="332.60" y2="61.05" stroke="#222" stroke-width="0.6" stroke-opacity="0.8"/>
<text x="334.90" y="63.80" font-size="7.9" fill="#222" stroke="#222" stroke-width="0.18">0.25</text>
<line x1="331.20" y1="79.30" x2="332.60" y2="79.30" stroke="#222" stroke-width="0.6" stroke-opacity="0.8"/>
<text x="334.90" y="82.05" font-size="7.9" fill="#222" stroke="#222" stroke-width="0.18">0.2</text>
<line x1="331.20" y1="97.55" x2="332.60" y2="97.55" stroke="#222" stroke-width="0.6" stroke-opacity="0.8"/>
<text x="334.90" y="100.30" font-size="7.9" fill="#222" stroke="#222" stroke-width="0.18">0.15</text>
<text x="0" y="0" font-size="7.6" fill="#222" stroke="#222" stroke-width="0.15" text-anchor="middle" transform="translate(357.30,66.70) rotate(-90)">albedo</text>
<g clip-path="url(#cpc)"><g filter="url(#fjc)"><rect x="385.80" y="20.40" width="111.50" height="92.60" fill="#808080"/><g filter="url(#fb)"><rect x="376.46" y="11.09" width="9.39" height="9.36" fill="#999999"/><rect x="385.75" y="11.09" width="9.39" height="9.36" fill="#999999"/><rect x="395.04" y="11.09" width="9.39" height="9.36" fill="#a3a3a3"/><rect x="404.33" y="11.09" width="9.39" height="9.36" fill="#a8a8a8"/><rect x="413.62" y="11.09" width="9.39" height="9.36" fill="#adadad"/><rect x="422.92" y="11.09" width="9.39" height="9.36" fill="#b2b2b2"/><rect x="432.21" y="11.09" width="9.39" height="9.36" fill="#a8a8a8"/><rect x="441.50" y="11.09" width="9.39" height="9.36" fill="#adadad"/><rect x="450.79" y="11.09" width="9.39" height="9.36" fill="#b2b2b2"/><rect x="460.08" y="11.09" width="9.39" height="9.36" fill="#a8a8a8"/><rect x="469.38" y="11.09" width="9.39" height="9.36" fill="#adadad"/><rect x="478.67" y="11.09" width="9.39" height="9.36" fill="#a3a3a3"/><rect x="487.96" y="11.09" width="9.39" height="9.36" fill="#b2b2b2"/><rect x="497.25" y="11.09" width="9.39" height="9.36" fill="#b2b2b2"/><rect x="376.46" y="20.35" width="9.39" height="9.36" fill="#999999"/><rect x="385.75" y="20.35" width="9.39" height="9.36" fill="#999999"/><rect x="395.04" y="20.35" width="9.39" height="9.36" fill="#a3a3a3"/><rect x="404.33" y="20.35" width="9.39" height="9.36" fill="#a8a8a8"/><rect x="413.62" y="20.35" width="9.39" height="9.36" fill="#adadad"/><rect x="422.92" y="20.35" width="9.39" height="9.36" fill="#b2b2b2"/><rect x="432.21" y="20.35" width="9.39" height="9.36" fill="#a8a8a8"/><rect x="441.50" y="20.35" width="9.39" height="9.36" fill="#adadad"/><rect x="450.79" y="20.35" width="9.39" height="9.36" fill="#b2b2b2"/><rect x="460.08" y="20.35" width="9.39" height="9.36" fill="#a8a8a8"/><rect x="469.38" y="20.35" width="9.39" height="9.36" fill="#adadad"/><rect x="478.67" y="20.35" width="9.39" height="9.36" fill="#a3a3a3"/><rect x="487.96" y="20.35" width="9.39" height="9.36" fill="#b2b2b2"/><rect x="497.25" y="20.35" width="9.39" height="9.36" fill="#b2b2b2"/><rect x="376.46" y="29.61" width="9.39" height="9.36" fill="#8c8c8c"/><rect x="385.75" y="29.61" width="9.39" height="9.36" fill="#8c8c8c"/><rect x="395.04" y="29.61" width="9.39" height="9.36" fill="#999999"/><rect x="404.33" y="29.61" width="9.39" height="9.36" fill="#a3a3a3"/><rect x="413.62" y="29.61" width="9.39" height="9.36" fill="#adadad"/><rect x="422.92" y="29.61" width="9.39" height="9.36" fill="#a8a8a8"/><rect x="432.21" y="29.61" width="9.39" height="9.36" fill="#b2b2b2"/><rect x="441.50" y="29.61" width="9.39" height="9.36" fill="#b8b8b8"/><rect x="450.79" y="29.61" width="9.39" height="9.36" fill="#a8a8a8"/><rect x="460.08" y="29.61" width="9.39" height="9.36" fill="#a8a8a8"/><rect x="469.38" y="29.61" width="9.39" height="9.36" fill="#adadad"/><rect x="478.67" y="29.61" width="9.39" height="9.36" fill="#a3a3a3"/><rect x="487.96" y="29.61" width="9.39" height="9.36" fill="#a8a8a8"/><rect x="497.25" y="29.61" width="9.39" height="9.36" fill="#a8a8a8"/><rect x="376.46" y="38.87" width="9.39" height="9.36" fill="#858585"/><rect x="385.75" y="38.87" width="9.39" height="9.36" fill="#858585"/><rect x="395.04" y="38.87" width="9.39" height="9.36" fill="#999999"/><rect x="404.33" y="38.87" width="9.39" height="9.36" fill="#a3a3a3"/><rect x="413.62" y="38.87" width="9.39" height="9.36" fill="#adadad"/><rect x="422.92" y="38.87" width="9.39" height="9.36" fill="#a3a3a3"/><rect x="432.21" y="38.87" width="9.39" height="9.36" fill="#bdbdbd"/><rect x="441.50" y="38.87" width="9.39" height="9.36" fill="#b8b8b8"/><rect x="450.79" y="38.87" width="9.39" height="9.36" fill="#a8a8a8"/><rect x="460.08" y="38.87" width="9.39" height="9.36" fill="#a3a3a3"/><rect x="469.38" y="38.87" width="9.39" height="9.36" fill="#b8b8b8"/><rect x="478.67" y="38.87" width="9.39" height="9.36" fill="#999999"/><rect x="487.96" y="38.87" width="9.39" height="9.36" fill="#a8a8a8"/><rect x="497.25" y="38.87" width="9.39" height="9.36" fill="#a8a8a8"/><rect x="376.46" y="48.13" width="9.39" height="9.36" fill="#8f8f8f"/><rect x="385.75" y="48.13" width="9.39" height="9.36" fill="#8f8f8f"/><rect x="395.04" y="48.13" width="9.39" height="9.36" fill="#9e9e9e"/><rect x="404.33" y="48.13" width="9.39" height="9.36" fill="#a3a3a3"/><rect x="413.62" y="48.13" width="9.39" height="9.36" fill="#a8a8a8"/><rect x="422.92" y="48.13" width="9.39" height="9.36" fill="#a3a3a3"/><rect x="432.21" y="48.13" width="9.39" height="9.36" fill="#b8b8b8"/><rect x="441.50" y="48.13" width="9.39" height="9.36" fill="#bdbdbd"/><rect x="450.79" y="48.13" width="9.39" height="9.36" fill="#adadad"/><rect x="460.08" y="48.13" width="9.39" height="9.36" fill="#a8a8a8"/><rect x="469.38" y="48.13" width="9.39" height="9.36" fill="#a3a3a3"/><rect x="478.67" y="48.13" width="9.39" height="9.36" fill="#b2b2b2"/><rect x="487.96" y="48.13" width="9.39" height="9.36" fill="#9e9e9e"/><rect x="497.25" y="48.13" width="9.39" height="9.36" fill="#9e9e9e"/><rect x="376.46" y="57.39" width="9.39" height="9.36" fill="#949494"/><rect x="385.75" y="57.39" width="9.39" height="9.36" fill="#949494"/><rect x="395.04" y="57.39" width="9.39" height="9.36" fill="#8f8f8f"/><rect x="404.33" y="57.39" width="9.39" height="9.36" fill="#8f8f8f"/><rect x="413.62" y="57.39" width="9.39" height="9.36" fill="#999999"/><rect x="422.92" y="57.39" width="9.39" height="9.36" fill="#9e9e9e"/><rect x="432.21" y="57.39" width="9.39" height="9.36" fill="#adadad"/><rect x="441.50" y="57.39" width="9.39" height="9.36" fill="#b8b8b8"/><rect x="450.79" y="57.39" width="9.39" height="9.36" fill="#b2b2b2"/><rect x="460.08" y="57.39" width="9.39" height="9.36" fill="#a8a8a8"/><rect x="469.38" y="57.39" width="9.39" height="9.36" fill="#999999"/><rect x="478.67" y="57.39" width="9.39" height="9.36" fill="#b2b2b2"/><rect x="487.96" y="57.39" width="9.39" height="9.36" fill="#999999"/><rect x="497.25" y="57.39" width="9.39" height="9.36" fill="#999999"/><rect x="376.46" y="66.65" width="9.39" height="9.36" fill="#7a7a7a"/><rect x="385.75" y="66.65" width="9.39" height="9.36" fill="#7a7a7a"/><rect x="395.04" y="66.65" width="9.39" height="9.36" fill="#8c8c8c"/><rect x="404.33" y="66.65" width="9.39" height="9.36" fill="#808080"/><rect x="413.62" y="66.65" width="9.39" height="9.36" fill="#8a8a8a"/><rect x="422.92" y="66.65" width="9.39" height="9.36" fill="#999999"/><rect x="432.21" y="66.65" width="9.39" height="9.36" fill="#9e9e9e"/><rect x="441.50" y="66.65" width="9.39" height="9.36" fill="#a8a8a8"/><rect x="450.79" y="66.65" width="9.39" height="9.36" fill="#b2b2b2"/><rect x="460.08" y="66.65" width="9.39" height="9.36" fill="#b8b8b8"/><rect x="469.38" y="66.65" width="9.39" height="9.36" fill="#bdbdbd"/><rect x="478.67" y="66.65" width="9.39" height="9.36" fill="#a3a3a3"/><rect x="487.96" y="66.65" width="9.39" height="9.36" fill="#a3a3a3"/><rect x="497.25" y="66.65" width="9.39" height="9.36" fill="#a3a3a3"/><rect x="376.46" y="75.91" width="9.39" height="9.36" fill="#7a7a7a"/><rect x="385.75" y="75.91" width="9.39" height="9.36" fill="#7a7a7a"/><rect x="395.04" y="75.91" width="9.39" height="9.36" fill="#808080"/><rect x="404.33" y="75.91" width="9.39" height="9.36" fill="#787878"/><rect x="413.62" y="75.91" width="9.39" height="9.36" fill="#858585"/><rect x="422.92" y="75.91" width="9.39" height="9.36" fill="#a3a3a3"/><rect x="432.21" y="75.91" width="9.39" height="9.36" fill="#a3a3a3"/><rect x="441.50" y="75.91" width="9.39" height="9.36" fill="#999999"/><rect x="450.79" y="75.91" width="9.39" height="9.36" fill="#9e9e9e"/><rect x="460.08" y="75.91" width="9.39" height="9.36" fill="#adadad"/><rect x="469.38" y="75.91" width="9.39" height="9.36" fill="#bdbdbd"/><rect x="478.67" y="75.91" width="9.39" height="9.36" fill="#999999"/><rect x="487.96" y="75.91" width="9.39" height="9.36" fill="#999999"/><rect x="497.25" y="75.91" width="9.39" height="9.36" fill="#999999"/><rect x="376.46" y="85.17" width="9.39" height="9.36" fill="#737373"/><rect x="385.75" y="85.17" width="9.39" height="9.36" fill="#737373"/><rect x="395.04" y="85.17" width="9.39" height="9.36" fill="#858585"/><rect x="404.33" y="85.17" width="9.39" height="9.36" fill="#858585"/><rect x="413.62" y="85.17" width="9.39" height="9.36" fill="#7a7a7a"/><rect x="422.92" y="85.17" width="9.39" height="9.36" fill="#999999"/><rect x="432.21" y="85.17" width="9.39" height="9.36" fill="#b2b2b2"/><rect x="441.50" y="85.17" width="9.39" height="9.36" fill="#8c8c8c"/><rect x="450.79" y="85.17" width="9.39" height="9.36" fill="#808080"/><rect x="460.08" y="85.17" width="9.39" height="9.36" fill="#8c8c8c"/><rect x="469.38" y="85.17" width="9.39" height="9.36" fill="#b8b8b8"/><rect x="478.67" y="85.17" width="9.39" height="9.36" fill="#8c8c8c"/><rect x="487.96" y="85.17" width="9.39" height="9.36" fill="#8f8f8f"/><rect x="497.25" y="85.17" width="9.39" height="9.36" fill="#8f8f8f"/><rect x="376.46" y="94.43" width="9.39" height="9.36" fill="#6b6b6b"/><rect x="385.75" y="94.43" width="9.39" height="9.36" fill="#6b6b6b"/><rect x="395.04" y="94.43" width="9.39" height="9.36" fill="#6b6b6b"/><rect x="404.33" y="94.43" width="9.39" height="9.36" fill="#666666"/><rect x="413.62" y="94.43" width="9.39" height="9.36" fill="#707070"/><rect x="422.92" y="94.43" width="9.39" height="9.36" fill="#7a7a7a"/><rect x="432.21" y="94.43" width="9.39" height="9.36" fill="#8c8c8c"/><rect x="441.50" y="94.43" width="9.39" height="9.36" fill="#707070"/><rect x="450.79" y="94.43" width="9.39" height="9.36" fill="#6b6b6b"/><rect x="460.08" y="94.43" width="9.39" height="9.36" fill="#7a7a7a"/><rect x="469.38" y="94.43" width="9.39" height="9.36" fill="#adadad"/><rect x="478.67" y="94.43" width="9.39" height="9.36" fill="#808080"/><rect x="487.96" y="94.43" width="9.39" height="9.36" fill="#858585"/><rect x="497.25" y="94.43" width="9.39" height="9.36" fill="#858585"/><rect x="376.46" y="103.69" width="9.39" height="9.36" fill="#595959"/><rect x="385.75" y="103.69" width="9.39" height="9.36" fill="#595959"/><rect x="395.04" y="103.69" width="9.39" height="9.36" fill="#616161"/><rect x="404.33" y="103.69" width="9.39" height="9.36" fill="#666666"/><rect x="413.62" y="103.69" width="9.39" height="9.36" fill="#6b6b6b"/><rect x="422.92" y="103.69" width="9.39" height="9.36" fill="#6b6b6b"/><rect x="432.21" y="103.69" width="9.39" height="9.36" fill="#7a7a7a"/><rect x="441.50" y="103.69" width="9.39" height="9.36" fill="#707070"/><rect x="450.79" y="103.69" width="9.39" height="9.36" fill="#6b6b6b"/><rect x="460.08" y="103.69" width="9.39" height="9.36" fill="#757575"/><rect x="469.38" y="103.69" width="9.39" height="9.36" fill="#9e9e9e"/><rect x="478.67" y="103.69" width="9.39" height="9.36" fill="#7a7a7a"/><rect x="487.96" y="103.69" width="9.39" height="9.36" fill="#808080"/><rect x="497.25" y="103.69" width="9.39" height="9.36" fill="#808080"/><rect x="376.46" y="112.95" width="9.39" height="9.36" fill="#595959"/><rect x="385.75" y="112.95" width="9.39" height="9.36" fill="#595959"/><rect x="395.04" y="112.95" width="9.39" height="9.36" fill="#616161"/><rect x="404.33" y="112.95" width="9.39" height="9.36" fill="#666666"/><rect x="413.62" y="112.95" width="9.39" height="9.36" fill="#6b6b6b"/><rect x="422.92" y="112.95" width="9.39" height="9.36" fill="#6b6b6b"/><rect x="432.21" y="112.95" width="9.39" height="9.36" fill="#7a7a7a"/><rect x="441.50" y="112.95" width="9.39" height="9.36" fill="#707070"/><rect x="450.79" y="112.95" width="9.39" height="9.36" fill="#6b6b6b"/><rect x="460.08" y="112.95" width="9.39" height="9.36" fill="#757575"/><rect x="469.38" y="112.95" width="9.39" height="9.36" fill="#9e9e9e"/><rect x="478.67" y="112.95" width="9.39" height="9.36" fill="#7a7a7a"/><rect x="487.96" y="112.95" width="9.39" height="9.36" fill="#808080"/><rect x="497.25" y="112.95" width="9.39" height="9.36" fill="#808080"/></g><g filter="url(#ff)"><polyline points="385.64,41.20 388.48,45.81 392.17,49.63 395.33,52.67 399.19,55.41 404.38,57.71 411.16,60.65 417.59,64.41 422.76,67.05" fill="none" stroke="#b2b2b2" stroke-width="1.30" stroke-linejoin="round" stroke-linecap="round"/><ellipse cx="480.10" cy="42.70" rx="3.00" ry="2.50" fill="#d6d6d6"/><polyline points="486.70,48.50 485.80,54.40 484.20,60.00 481.80,64.40" fill="none" stroke="#cccccc" stroke-width="2.40" stroke-linejoin="round" stroke-linecap="round"/><polyline points="476.00,27.10 477.80,34.40 480.10,41.80" fill="none" stroke="#c2c2c2" stroke-width="1.20" stroke-linejoin="round" stroke-linecap="round"/><polyline points="460.80,71.40 467.80,70.40 474.80,72.40" fill="none" stroke="#c2c2c2" stroke-width="2.50" stroke-linejoin="round" stroke-linecap="round"/><polyline points="474.30,73.40 474.30,82.40 473.80,90.40 473.30,97.80" fill="none" stroke="#c2c2c2" stroke-width="2.80" stroke-linejoin="round" stroke-linecap="round"/><polyline points="386.30,27.40 386.30,44.40" fill="none" stroke="#6b6b6b" stroke-width="2.20" stroke-linejoin="round" stroke-linecap="round"/><ellipse cx="435.30" cy="86.40" rx="2.50" ry="4.00" fill="#bdbdbd"/></g></g></g>
<g clip-path="url(#cpc)" transform="translate(0.00,0.00)">
<g transform="translate(385.80,20.40)">
<polyline points="-1.00,18.50 1.80,21.80 4.80,25.20 8.20,28.20 11.00,30.50 14.50,33.00 19.50,35.20 26.40,38.20 32.90,42.00 38.00,44.60 41.50,47.50 45.50,53.30 50.30,57.10 54.10,60.00 55.60,63.70" fill="none" stroke="#0094ff" stroke-width="2.00" stroke-opacity="1.00" stroke-linejoin="round" stroke-linecap="round" filter="url(#fs)"/>
<polyline points="55.60,63.70 56.60,67.50 57.00,71.30 57.20,78.90 57.50,86.50 57.80,93.00" fill="none" stroke="#05fffa" stroke-width="1.30" stroke-opacity="1.00" stroke-linejoin="round" stroke-linecap="round" filter="url(#fs)"/>
</g></g>
<rect x="385.80" y="20.40" width="111.50" height="92.60" fill="none" stroke="#444" stroke-width="0.6" stroke-opacity="0.7"/>
<text x="385.90" y="14.10" font-size="10" font-weight="bold" fill="#000">(c)</text>
<text x="441.55" y="17.60" font-size="8.6" font-weight="bold" fill="#000" stroke="#000" stroke-width="0.12" text-anchor="middle">05 October 2007</text>
<rect x="504.60" y="20.90" width="14.50" height="92.30" fill="#ececf0"/>
<rect x="504.60" y="20.90" width="14.50" height="90.40" fill="url(#jetg)"/>
<rect x="504.60" y="20.90" width="14.50" height="92.30" fill="none" stroke="#666" stroke-width="0.5" stroke-opacity="0.7"/>
<line x1="517.70" y1="24.55" x2="519.10" y2="24.55" stroke="#222" stroke-width="0.6" stroke-opacity="0.8"/>
<text x="521.40" y="27.30" font-size="7.9" fill="#222" stroke="#222" stroke-width="0.18">0.35</text>
<line x1="517.70" y1="42.80" x2="519.10" y2="42.80" stroke="#222" stroke-width="0.6" stroke-opacity="0.8"/>
<text x="521.40" y="45.55" font-size="7.9" fill="#222" stroke="#222" stroke-width="0.18">0.3</text>
<line x1="517.70" y1="61.05" x2="519.10" y2="61.05" stroke="#222" stroke-width="0.6" stroke-opacity="0.8"/>
<text x="521.40" y="63.80" font-size="7.9" fill="#222" stroke="#222" stroke-width="0.18">0.25</text>
<line x1="517.70" y1="79.30" x2="519.10" y2="79.30" stroke="#222" stroke-width="0.6" stroke-opacity="0.8"/>
<text x="521.40" y="82.05" font-size="7.9" fill="#222" stroke="#222" stroke-width="0.18">0.2</text>
<line x1="517.70" y1="97.55" x2="519.10" y2="97.55" stroke="#222" stroke-width="0.6" stroke-opacity="0.8"/>
<text x="521.40" y="100.30" font-size="7.9" fill="#222" stroke="#222" stroke-width="0.18">0.15</text>
<text x="0" y="0" font-size="7.6" fill="#222" stroke="#222" stroke-width="0.15" text-anchor="middle" transform="translate(543.80,66.70) rotate(-90)">albedo</text>
<g clip-path="url(#cpd)"><g filter="url(#fjd)"><rect x="13.20" y="175.95" width="111.50" height="92.60" fill="#808080"/><g filter="url(#fb)"><rect x="3.86" y="166.64" width="9.39" height="9.36" fill="#c2c2c2"/><rect x="13.15" y="166.64" width="9.39" height="9.36" fill="#c2c2c2"/><rect x="22.44" y="166.64" width="9.39" height="9.36" fill="#c2c2c2"/><rect x="31.73" y="166.64" width="9.39" height="9.36" fill="#cccccc"/><rect x="41.03" y="166.64" width="9.39" height="9.36" fill="#c7c7c7"/><rect x="50.32" y="166.64" width="9.39" height="9.36" fill="#cccccc"/><rect x="59.61" y="166.64" width="9.39" height="9.36" fill="#c2c2c2"/><rect x="68.90" y="166.64" width="9.39" height="9.36" fill="#bdbdbd"/><rect x="78.19" y="166.64" width="9.39" height="9.36" fill="#b2b2b2"/><rect x="87.48" y="166.64" width="9.39" height="9.36" fill="#b2b2b2"/><rect x="96.78" y="166.64" width="9.39" height="9.36" fill="#a8a8a8"/><rect x="106.07" y="166.64" width="9.39" height="9.36" fill="#b2b2b2"/><rect x="115.36" y="166.64" width="9.39" height="9.36" fill="#a8a8a8"/><rect x="124.65" y="166.64" width="9.39" height="9.36" fill="#a8a8a8"/><rect x="3.86" y="175.90" width="9.39" height="9.36" fill="#c2c2c2"/><rect x="13.15" y="175.90" width="9.39" height="9.36" fill="#c2c2c2"/><rect x="22.44" y="175.90" width="9.39" height="9.36" fill="#c2c2c2"/><rect x="31.73" y="175.90" width="9.39" height="9.36" fill="#cccccc"/><rect x="41.03" y="175.90" width="9.39" height="9.36" fill="#c7c7c7"/><rect x="50.32" y="175.90" width="9.39" height="9.36" fill="#cccccc"/><rect x="59.61" y="175.90" width="9.39" height="9.36" fill="#c2c2c2"/><rect x="68.90" y="175.90" width="9.39" height="9.36" fill="#bdbdbd"/><rect x="78.19" y="175.90" width="9.39" height="9.36" fill="#b2b2b2"/><rect x="87.48" y="175.90" width="9.39" height="9.36" fill="#b2b2b2"/><rect x="96.78" y="175.90" width="9.39" height="9.36" fill="#a8a8a8"/><rect x="106.07" y="175.90" width="9.39" height="9.36" fill="#b2b2b2"/><rect x="115.36" y="175.90" width="9.39" height="9.36" fill="#a8a8a8"/><rect x="124.65" y="175.90" width="9.39" height="9.36" fill="#a8a8a8"/><rect x="3.86" y="185.16" width="9.39" height="9.36" fill="#c2c2c2"/><rect x="13.15" y="185.16" width="9.39" height="9.36" fill="#c2c2c2"/><rect x="22.44" y="185.16" width="9.39" height="9.36" fill="#c2c2c2"/><rect x="31.73" y="185.16" width="9.39" height="9.36" fill="#cccccc"/><rect x="41.03" y="185.16" width="9.39" height="9.36" fill="#c2c2c2"/><rect x="50.32" y="185.16" width="9.39" height="9.36" fill="#cccccc"/><rect x="59.61" y="185.16" width="9.39" height="9.36" fill="#bdbdbd"/><rect x="68.90" y="185.16" width="9.39" height="9.36" fill="#b8b8b8"/><rect x="78.19" y="185.16" width="9.39" height="9.36" fill="#b2b2b2"/><rect x="87.48" y="185.16" width="9.39" height="9.36" fill="#a8a8a8"/><rect x="96.78" y="185.16" width="9.39" height="9.36" fill="#b2b2b2"/><rect x="106.07" y="185.16" width="9.39" height="9.36" fill="#b8b8b8"/><rect x="115.36" y="185.16" width="9.39" height="9.36" fill="#b8b8b8"/><rect x="124.65" y="185.16" width="9.39" height="9.36" fill="#b8b8b8"/><rect x="3.86" y="194.42" width="9.39" height="9.36" fill="#bdbdbd"/><rect x="13.15" y="194.42" width="9.39" height="9.36" fill="#bdbdbd"/><rect x="22.44" y="194.42" width="9.39" height="9.36" fill="#c2c2c2"/><rect x="31.73" y="194.42" width="9.39" height="9.36" fill="#c2c2c2"/><rect x="41.03" y="194.42" width="9.39" height="9.36" fill="#cccccc"/><rect x="50.32" y="194.42" width="9.39" height="9.36" fill="#d1d1d1"/><rect x="59.61" y="194.42" width="9.39" height="9.36" fill="#bdbdbd"/><rect x="68.90" y="194.42" width="9.39" height="9.36" fill="#bdbdbd"/><rect x="78.19" y="194.42" width="9.39" height="9.36" fill="#b2b2b2"/><rect x="87.48" y="194.42" width="9.39" height="9.36" fill="#b2b2b2"/><rect x="96.78" y="194.42" width="9.39" height="9.36" fill="#bdbdbd"/><rect x="106.07" y="194.42" width="9.39" height="9.36" fill="#b8b8b8"/><rect x="115.36" y="194.42" width="9.39" height="9.36" fill="#bdbdbd"/><rect x="124.65" y="194.42" width="9.39" height="9.36" fill="#bdbdbd"/><rect x="3.86" y="203.68" width="9.39" height="9.36" fill="#c2c2c2"/><rect x="13.15" y="203.68" width="9.39" height="9.36" fill="#c2c2c2"/><rect x="22.44" y="203.68" width="9.39" height="9.36" fill="#b2b2b2"/><rect x="31.73" y="203.68" width="9.39" height="9.36" fill="#bdbdbd"/><rect x="41.03" y="203.68" width="9.39" height="9.36" fill="#cccccc"/><rect x="50.32" y="203.68" width="9.39" height="9.36" fill="#c7c7c7"/><rect x="59.61" y="203.68" width="9.39" height="9.36" fill="#bdbdbd"/><rect x="68.90" y="203.68" width="9.39" height="9.36" fill="#b8b8b8"/><rect x="78.19" y="203.68" width="9.39" height="9.36" fill="#bdbdbd"/><rect x="87.48" y="203.68" width="9.39" height="9.36" fill="#bdbdbd"/><rect x="96.78" y="203.68" width="9.39" height="9.36" fill="#bdbdbd"/><rect x="106.07" y="203.68" width="9.39" height="9.36" fill="#b8b8b8"/><rect x="115.36" y="203.68" width="9.39" height="9.36" fill="#bdbdbd"/><rect x="124.65" y="203.68" width="9.39" height="9.36" fill="#bdbdbd"/><rect x="3.86" y="212.94" width="9.39" height="9.36" fill="#b2b2b2"/><rect x="13.15" y="212.94" width="9.39" height="9.36" fill="#b2b2b2"/><rect x="22.44" y="212.94" width="9.39" height="9.36" fill="#bdbdbd"/><rect x="31.73" y="212.94" width="9.39" height="9.36" fill="#bdbdbd"/><rect x="41.03" y="212.94" width="9.39" height="9.36" fill="#c2c2c2"/><rect x="50.32" y="212.94" width="9.39" height="9.36" fill="#bdbdbd"/><rect x="59.61" y="212.94" width="9.39" height="9.36" fill="#bdbdbd"/><rect x="68.90" y="212.94" width="9.39" height="9.36" fill="#bdbdbd"/><rect x="78.19" y="212.94" width="9.39" height="9.36" fill="#bdbdbd"/><rect x="87.48" y="212.94" width="9.39" height="9.36" fill="#b8b8b8"/><rect x="96.78" y="212.94" width="9.39" height="9.36" fill="#bdbdbd"/><rect x="106.07" y="212.94" width="9.39" height="9.36" fill="#b2b2b2"/><rect x="115.36" y="212.94" width="9.39" height="9.36" fill="#bdbdbd"/><rect x="124.65" y="212.94" width="9.39" height="9.36" fill="#bdbdbd"/><rect x="3.86" y="222.20" width="9.39" height="9.36" fill="#bdbdbd"/><rect x="13.15" y="222.20" width="9.39" height="9.36" fill="#bdbdbd"/><rect x="22.44" y="222.20" width="9.39" height="9.36" fill="#b8b8b8"/><rect x="31.73" y="222.20" width="9.39" height="9.36" fill="#bdbdbd"/><rect x="41.03" y="222.20" width="9.39" height="9.36" fill="#b2b2b2"/><rect x="50.32" y="222.20" width="9.39" height="9.36" fill="#bdbdbd"/><rect x="59.61" y="222.20" width="9.39" height="9.36" fill="#cccccc"/><rect x="68.90" y="222.20" width="9.39" height="9.36" fill="#c2c2c2"/><rect x="78.19" y="222.20" width="9.39" height="9.36" fill="#bdbdbd"/><rect x="87.48" y="222.20" width="9.39" height="9.36" fill="#c2c2c2"/><rect x="96.78" y="222.20" width="9.39" height="9.36" fill="#c7c7c7"/><rect x="106.07" y="222.20" width="9.39" height="9.36" fill="#c2c2c2"/><rect x="115.36" y="222.20" width="9.39" height="9.36" fill="#c2c2c2"/><rect x="124.65" y="222.20" width="9.39" height="9.36" fill="#c2c2c2"/><rect x="3.86" y="231.46" width="9.39" height="9.36" fill="#c2c2c2"/><rect x="13.15" y="231.46" width="9.39" height="9.36" fill="#c2c2c2"/><rect x="22.44" y="231.46" width="9.39" height="9.36" fill="#bdbdbd"/><rect x="31.73" y="231.46" width="9.39" height="9.36" fill="#bdbdbd"/><rect x="41.03" y="231.46" width="9.39" height="9.36" fill="#b2b2b2"/><rect x="50.32" y="231.46" width="9.39" height="9.36" fill="#9e9e9e"/><rect x="59.61" y="231.46" width="9.39" height="9.36" fill="#dbdbdb"/><rect x="68.90" y="231.46" width="9.39" height="9.36" fill="#bdbdbd"/><rect x="78.19" y="231.46" width="9.39" height="9.36" fill="#adadad"/><rect x="87.48" y="231.46" width="9.39" height="9.36" fill="#d1d1d1"/><rect x="96.78" y="231.46" width="9.39" height="9.36" fill="#d6d6d6"/><rect x="106.07" y="231.46" width="9.39" height="9.36" fill="#c2c2c2"/><rect x="115.36" y="231.46" width="9.39" height="9.36" fill="#c2c2c2"/><rect x="124.65" y="231.46" width="9.39" height="9.36" fill="#c2c2c2"/><rect x="3.86" y="240.72" width="9.39" height="9.36" fill="#bdbdbd"/><rect x="13.15" y="240.72" width="9.39" height="9.36" fill="#bdbdbd"/><rect x="22.44" y="240.72" width="9.39" height="9.36" fill="#c2c2c2"/><rect x="31.73" y="240.72" width="9.39" height="9.36" fill="#bdbdbd"/><rect x="41.03" y="240.72" width="9.39" height="9.36" fill="#bdbdbd"/><rect x="50.32" y="240.72" width="9.39" height="9.36" fill="#9e9e9e"/><rect x="59.61" y="240.72" width="9.39" height="9.36" fill="#dbdbdb"/><rect x="68.90" y="240.72" width="9.39" height="9.36" fill="#adadad"/><rect x="78.19" y="240.72" width="9.39" height="9.36" fill="#adadad"/><rect x="87.48" y="240.72" width="9.39" height="9.36" fill="#d6d6d6"/><rect x="96.78" y="240.72" width="9.39" height="9.36" fill="#cccccc"/><rect x="106.07" y="240.72" width="9.39" height="9.36" fill="#c2c2c2"/><rect x="115.36" y="240.72" width="9.39" height="9.36" fill="#bdbdbd"/><rect x="124.65" y="240.72" width="9.39" height="9.36" fill="#bdbdbd"/><rect x="3.86" y="249.98" width="9.39" height="9.36" fill="#bdbdbd"/><rect x="13.15" y="249.98" width="9.39" height="9.36" fill="#bdbdbd"/><rect x="22.44" y="249.98" width="9.39" height="9.36" fill="#b8b8b8"/><rect x="31.73" y="249.98" width="9.39" height="9.36" fill="#bdbdbd"/><rect x="41.03" y="249.98" width="9.39" height="9.36" fill="#c2c2c2"/><rect x="50.32" y="249.98" width="9.39" height="9.36" fill="#b8b8b8"/><rect x="59.61" y="249.98" width="9.39" height="9.36" fill="#dbdbdb"/><rect x="68.90" y="249.98" width="9.39" height="9.36" fill="#b8b8b8"/><rect x="78.19" y="249.98" width="9.39" height="9.36" fill="#adadad"/><rect x="87.48" y="249.98" width="9.39" height="9.36" fill="#d6d6d6"/><rect x="96.78" y="249.98" width="9.39" height="9.36" fill="#cccccc"/><rect x="106.07" y="249.98" width="9.39" height="9.36" fill="#c2c2c2"/><rect x="115.36" y="249.98" width="9.39" height="9.36" fill="#bdbdbd"/><rect x="124.65" y="249.98" width="9.39" height="9.36" fill="#bdbdbd"/><rect x="3.86" y="259.24" width="9.39" height="9.36" fill="#b8b8b8"/><rect x="13.15" y="259.24" width="9.39" height="9.36" fill="#b8b8b8"/><rect x="22.44" y="259.24" width="9.39" height="9.36" fill="#c2c2c2"/><rect x="31.73" y="259.24" width="9.39" height="9.36" fill="#bdbdbd"/><rect x="41.03" y="259.24" width="9.39" height="9.36" fill="#c2c2c2"/><rect x="50.32" y="259.24" width="9.39" height="9.36" fill="#c2c2c2"/><rect x="59.61" y="259.24" width="9.39" height="9.36" fill="#d1d1d1"/><rect x="68.90" y="259.24" width="9.39" height="9.36" fill="#bdbdbd"/><rect x="78.19" y="259.24" width="9.39" height="9.36" fill="#bdbdbd"/><rect x="87.48" y="259.24" width="9.39" height="9.36" fill="#cccccc"/><rect x="96.78" y="259.24" width="9.39" height="9.36" fill="#c7c7c7"/><rect x="106.07" y="259.24" width="9.39" height="9.36" fill="#c2c2c2"/><rect x="115.36" y="259.24" width="9.39" height="9.36" fill="#c2c2c2"/><rect x="124.65" y="259.24" width="9.39" height="9.36" fill="#c2c2c2"/><rect x="3.86" y="268.50" width="9.39" height="9.36" fill="#b8b8b8"/><rect x="13.15" y="268.50" width="9.39" height="9.36" fill="#b8b8b8"/><rect x="22.44" y="268.50" width="9.39" height="9.36" fill="#c2c2c2"/><rect x="31.73" y="268.50" width="9.39" height="9.36" fill="#bdbdbd"/><rect x="41.03" y="268.50" width="9.39" height="9.36" fill="#c2c2c2"/><rect x="50.32" y="268.50" width="9.39" height="9.36" fill="#c2c2c2"/><rect x="59.61" y="268.50" width="9.39" height="9.36" fill="#d1d1d1"/><rect x="68.90" y="268.50" width="9.39" height="9.36" fill="#bdbdbd"/><rect x="78.19" y="268.50" width="9.39" height="9.36" fill="#bdbdbd"/><rect x="87.48" y="268.50" width="9.39" height="9.36" fill="#cccccc"/><rect x="96.78" y="268.50" width="9.39" height="9.36" fill="#c7c7c7"/><rect x="106.07" y="268.50" width="9.39" height="9.36" fill="#c2c2c2"/><rect x="115.36" y="268.50" width="9.39" height="9.36" fill="#c2c2c2"/><rect x="124.65" y="268.50" width="9.39" height="9.36" fill="#c2c2c2"/></g><g filter="url(#ff)"><polyline points="102.20,174.95 105.70,188.95 110.70,205.55 109.00,218.95 106.20,231.95" fill="none" stroke="#a8a8a8" stroke-width="1.40" stroke-linejoin="round" stroke-linecap="round"/><polyline points="97.20,225.95 98.20,240.95 99.20,255.95 99.20,268.95" fill="none" stroke="#dbdbdb" stroke-width="4.00" stroke-linejoin="round" stroke-linecap="round"/></g></g></g>
<g clip-path="url(#cpd)" transform="translate(0.00,0.00)">
<g transform="translate(13.20,175.95)">
<polyline points="-1.00,13.80 1.80,19.60 4.50,24.00 8.00,27.60 11.00,30.50 14.50,33.00 19.50,35.20 26.40,38.20 32.90,42.00 38.00,44.60 41.50,47.50 45.50,53.30 50.30,57.10 54.10,60.00 55.60,63.70" fill="none" stroke="#1affe5" stroke-width="1.50" stroke-opacity="1.00" stroke-linejoin="round" stroke-linecap="round" filter="url(#fs)"/>
<polyline points="55.60,63.70 56.60,67.50 57.00,71.30 57.20,78.90 57.50,86.50 57.80,93.00" fill="none" stroke="#4dffb2" stroke-width="1.10" stroke-opacity="1.00" stroke-linejoin="round" stroke-linecap="round" filter="url(#fs)"/>
</g></g>
<rect x="13.20" y="175.95" width="111.50" height="92.60" fill="none" stroke="#444" stroke-width="0.6" stroke-opacity="0.7"/>
<text x="13.30" y="169.65" font-size="10" font-weight="bold" fill="#000">(d)</text>
<rect x="131.80" y="176.45" width="14.50" height="92.30" fill="#ececf0"/>
<rect x="131.80" y="176.45" width="14.50" height="90.40" fill="url(#jetg)"/>
<rect x="131.80" y="176.45" width="14.50" height="92.30" fill="none" stroke="#666" stroke-width="0.5" stroke-opacity="0.7"/>
<line x1="144.90" y1="182.50" x2="146.30" y2="182.50" stroke="#222" stroke-width="0.6" stroke-opacity="0.8"/>
<text x="148.60" y="185.25" font-size="7.9" fill="#222" stroke="#222" stroke-width="0.18">310</text>
<line x1="144.90" y1="213.30" x2="146.30" y2="213.30" stroke="#222" stroke-width="0.6" stroke-opacity="0.8"/>
<text x="148.60" y="216.05" font-size="7.9" fill="#222" stroke="#222" stroke-width="0.18">305</text>
<line x1="144.90" y1="244.10" x2="146.30" y2="244.10" stroke="#222" stroke-width="0.6" stroke-opacity="0.8"/>
<text x="148.60" y="246.85" font-size="7.9" fill="#222" stroke="#222" stroke-width="0.18">300</text>
<text x="0" y="0" font-size="7.6" fill="#222" stroke="#222" stroke-width="0.15" text-anchor="middle" transform="translate(169.20,223.00) rotate(-90)">Ts (K)</text>
<g clip-path="url(#cpe)"><g filter="url(#fje)"><rect x="199.50" y="175.95" width="111.50" height="92.60" fill="#808080"/><g filter="url(#fb)"><rect x="190.16" y="166.64" width="9.39" height="9.36" fill="#595959"/><rect x="199.45" y="166.64" width="9.39" height="9.36" fill="#595959"/><rect x="208.74" y="166.64" width="9.39" height="9.36" fill="#666666"/><rect x="218.03" y="166.64" width="9.39" height="9.36" fill="#666666"/><rect x="227.32" y="166.64" width="9.39" height="9.36" fill="#666666"/><rect x="236.62" y="166.64" width="9.39" height="9.36" fill="#737373"/><rect x="245.91" y="166.64" width="9.39" height="9.36" fill="#808080"/><rect x="255.20" y="166.64" width="9.39" height="9.36" fill="#949494"/><rect x="264.49" y="166.64" width="9.39" height="9.36" fill="#9e9e9e"/><rect x="273.78" y="166.64" width="9.39" height="9.36" fill="#b2b2b2"/><rect x="283.07" y="166.64" width="9.39" height="9.36" fill="#b8b8b8"/><rect x="292.37" y="166.64" width="9.39" height="9.36" fill="#bfbfbf"/><rect x="301.66" y="166.64" width="9.39" height="9.36" fill="#bfbfbf"/><rect x="310.95" y="166.64" width="9.39" height="9.36" fill="#bfbfbf"/><rect x="190.16" y="175.90" width="9.39" height="9.36" fill="#595959"/><rect x="199.45" y="175.90" width="9.39" height="9.36" fill="#595959"/><rect x="208.74" y="175.90" width="9.39" height="9.36" fill="#666666"/><rect x="218.03" y="175.90" width="9.39" height="9.36" fill="#666666"/><rect x="227.32" y="175.90" width="9.39" height="9.36" fill="#666666"/><rect x="236.62" y="175.90" width="9.39" height="9.36" fill="#737373"/><rect x="245.91" y="175.90" width="9.39" height="9.36" fill="#808080"/><rect x="255.20" y="175.90" width="9.39" height="9.36" fill="#949494"/><rect x="264.49" y="175.90" width="9.39" height="9.36" fill="#9e9e9e"/><rect x="273.78" y="175.90" width="9.39" height="9.36" fill="#b2b2b2"/><rect x="283.07" y="175.90" width="9.39" height="9.36" fill="#b8b8b8"/><rect x="292.37" y="175.90" width="9.39" height="9.36" fill="#bfbfbf"/><rect x="301.66" y="175.90" width="9.39" height="9.36" fill="#bfbfbf"/><rect x="310.95" y="175.90" width="9.39" height="9.36" fill="#bfbfbf"/><rect x="190.16" y="185.16" width="9.39" height="9.36" fill="#666666"/><rect x="199.45" y="185.16" width="9.39" height="9.36" fill="#666666"/><rect x="208.74" y="185.16" width="9.39" height="9.36" fill="#737373"/><rect x="218.03" y="185.16" width="9.39" height="9.36" fill="#6b6b6b"/><rect x="227.32" y="185.16" width="9.39" height="9.36" fill="#6b6b6b"/><rect x="236.62" y="185.16" width="9.39" height="9.36" fill="#808080"/><rect x="245.91" y="185.16" width="9.39" height="9.36" fill="#8c8c8c"/><rect x="255.20" y="185.16" width="9.39" height="9.36" fill="#999999"/><rect x="264.49" y="185.16" width="9.39" height="9.36" fill="#9e9e9e"/><rect x="273.78" y="185.16" width="9.39" height="9.36" fill="#adadad"/><rect x="283.07" y="185.16" width="9.39" height="9.36" fill="#bdbdbd"/><rect x="292.37" y="185.16" width="9.39" height="9.36" fill="#c2c2c2"/><rect x="301.66" y="185.16" width="9.39" height="9.36" fill="#b2b2b2"/><rect x="310.95" y="185.16" width="9.39" height="9.36" fill="#b2b2b2"/><rect x="190.16" y="194.42" width="9.39" height="9.36" fill="#808080"/><rect x="199.45" y="194.42" width="9.39" height="9.36" fill="#808080"/><rect x="208.74" y="194.42" width="9.39" height="9.36" fill="#999999"/><rect x="218.03" y="194.42" width="9.39" height="9.36" fill="#9e9e9e"/><rect x="227.32" y="194.42" width="9.39" height="9.36" fill="#9e9e9e"/><rect x="236.62" y="194.42" width="9.39" height="9.36" fill="#999999"/><rect x="245.91" y="194.42" width="9.39" height="9.36" fill="#949494"/><rect x="255.20" y="194.42" width="9.39" height="9.36" fill="#8c8c8c"/><rect x="264.49" y="194.42" width="9.39" height="9.36" fill="#858585"/><rect x="273.78" y="194.42" width="9.39" height="9.36" fill="#808080"/><rect x="283.07" y="194.42" width="9.39" height="9.36" fill="#999999"/><rect x="292.37" y="194.42" width="9.39" height="9.36" fill="#b8b8b8"/><rect x="301.66" y="194.42" width="9.39" height="9.36" fill="#adadad"/><rect x="310.95" y="194.42" width="9.39" height="9.36" fill="#adadad"/><rect x="190.16" y="203.68" width="9.39" height="9.36" fill="#c7c7c7"/><rect x="199.45" y="203.68" width="9.39" height="9.36" fill="#c7c7c7"/><rect x="208.74" y="203.68" width="9.39" height="9.36" fill="#a6a6a6"/><rect x="218.03" y="203.68" width="9.39" height="9.36" fill="#adadad"/><rect x="227.32" y="203.68" width="9.39" height="9.36" fill="#adadad"/><rect x="236.62" y="203.68" width="9.39" height="9.36" fill="#a8a8a8"/><rect x="245.91" y="203.68" width="9.39" height="9.36" fill="#a6a6a6"/><rect x="255.20" y="203.68" width="9.39" height="9.36" fill="#9e9e9e"/><rect x="264.49" y="203.68" width="9.39" height="9.36" fill="#8c8c8c"/><rect x="273.78" y="203.68" width="9.39" height="9.36" fill="#858585"/><rect x="283.07" y="203.68" width="9.39" height="9.36" fill="#9e9e9e"/><rect x="292.37" y="203.68" width="9.39" height="9.36" fill="#c7c7c7"/><rect x="301.66" y="203.68" width="9.39" height="9.36" fill="#9e9e9e"/><rect x="310.95" y="203.68" width="9.39" height="9.36" fill="#9e9e9e"/><rect x="190.16" y="212.94" width="9.39" height="9.36" fill="#b8b8b8"/><rect x="199.45" y="212.94" width="9.39" height="9.36" fill="#b8b8b8"/><rect x="208.74" y="212.94" width="9.39" height="9.36" fill="#808080"/><rect x="218.03" y="212.94" width="9.39" height="9.36" fill="#7a7a7a"/><rect x="227.32" y="212.94" width="9.39" height="9.36" fill="#808080"/><rect x="236.62" y="212.94" width="9.39" height="9.36" fill="#949494"/><rect x="245.91" y="212.94" width="9.39" height="9.36" fill="#999999"/><rect x="255.20" y="212.94" width="9.39" height="9.36" fill="#999999"/><rect x="264.49" y="212.94" width="9.39" height="9.36" fill="#8f8f8f"/><rect x="273.78" y="212.94" width="9.39" height="9.36" fill="#8c8c8c"/><rect x="283.07" y="212.94" width="9.39" height="9.36" fill="#9e9e9e"/><rect x="292.37" y="212.94" width="9.39" height="9.36" fill="#c7c7c7"/><rect x="301.66" y="212.94" width="9.39" height="9.36" fill="#949494"/><rect x="310.95" y="212.94" width="9.39" height="9.36" fill="#949494"/><rect x="190.16" y="222.20" width="9.39" height="9.36" fill="#8c8c8c"/><rect x="199.45" y="222.20" width="9.39" height="9.36" fill="#8c8c8c"/><rect x="208.74" y="222.20" width="9.39" height="9.36" fill="#808080"/><rect x="218.03" y="222.20" width="9.39" height="9.36" fill="#6b6b6b"/><rect x="227.32" y="222.20" width="9.39" height="9.36" fill="#6b6b6b"/><rect x="236.62" y="222.20" width="9.39" height="9.36" fill="#6b6b6b"/><rect x="245.91" y="222.20" width="9.39" height="9.36" fill="#6b6b6b"/><rect x="255.20" y="222.20" width="9.39" height="9.36" fill="#6b6b6b"/><rect x="264.49" y="222.20" width="9.39" height="9.36" fill="#737373"/><rect x="273.78" y="222.20" width="9.39" height="9.36" fill="#808080"/><rect x="283.07" y="222.20" width="9.39" height="9.36" fill="#9e9e9e"/><rect x="292.37" y="222.20" width="9.39" height="9.36" fill="#b8b8b8"/><rect x="301.66" y="222.20" width="9.39" height="9.36" fill="#757575"/><rect x="310.95" y="222.20" width="9.39" height="9.36" fill="#757575"/><rect x="190.16" y="231.46" width="9.39" height="9.36" fill="#808080"/><rect x="199.45" y="231.46" width="9.39" height="9.36" fill="#808080"/><rect x="208.74" y="231.46" width="9.39" height="9.36" fill="#808080"/><rect x="218.03" y="231.46" width="9.39" height="9.36" fill="#7a7a7a"/><rect x="227.32" y="231.46" width="9.39" height="9.36" fill="#737373"/><rect x="236.62" y="231.46" width="9.39" height="9.36" fill="#6b6b6b"/><rect x="245.91" y="231.46" width="9.39" height="9.36" fill="#666666"/><rect x="255.20" y="231.46" width="9.39" height="9.36" fill="#666666"/><rect x="264.49" y="231.46" width="9.39" height="9.36" fill="#6b6b6b"/><rect x="273.78" y="231.46" width="9.39" height="9.36" fill="#737373"/><rect x="283.07" y="231.46" width="9.39" height="9.36" fill="#999999"/><rect x="292.37" y="231.46" width="9.39" height="9.36" fill="#9e9e9e"/><rect x="301.66" y="231.46" width="9.39" height="9.36" fill="#737373"/><rect x="310.95" y="231.46" width="9.39" height="9.36" fill="#737373"/><rect x="190.16" y="240.72" width="9.39" height="9.36" fill="#5c5c5c"/><rect x="199.45" y="240.72" width="9.39" height="9.36" fill="#5c5c5c"/><rect x="208.74" y="240.72" width="9.39" height="9.36" fill="#575757"/><rect x="218.03" y="240.72" width="9.39" height="9.36" fill="#575757"/><rect x="227.32" y="240.72" width="9.39" height="9.36" fill="#5c5c5c"/><rect x="236.62" y="240.72" width="9.39" height="9.36" fill="#4c4c4c"/><rect x="245.91" y="240.72" width="9.39" height="9.36" fill="#5c5c5c"/><rect x="255.20" y="240.72" width="9.39" height="9.36" fill="#616161"/><rect x="264.49" y="240.72" width="9.39" height="9.36" fill="#616161"/><rect x="273.78" y="240.72" width="9.39" height="9.36" fill="#6b6b6b"/><rect x="283.07" y="240.72" width="9.39" height="9.36" fill="#949494"/><rect x="292.37" y="240.72" width="9.39" height="9.36" fill="#8c8c8c"/><rect x="301.66" y="240.72" width="9.39" height="9.36" fill="#6b6b6b"/><rect x="310.95" y="240.72" width="9.39" height="9.36" fill="#6b6b6b"/><rect x="190.16" y="249.98" width="9.39" height="9.36" fill="#4c4c4c"/><rect x="199.45" y="249.98" width="9.39" height="9.36" fill="#4c4c4c"/><rect x="208.74" y="249.98" width="9.39" height="9.36" fill="#5c5c5c"/><rect x="218.03" y="249.98" width="9.39" height="9.36" fill="#575757"/><rect x="227.32" y="249.98" width="9.39" height="9.36" fill="#5c5c5c"/><rect x="236.62" y="249.98" width="9.39" height="9.36" fill="#616161"/><rect x="245.91" y="249.98" width="9.39" height="9.36" fill="#666666"/><rect x="255.20" y="249.98" width="9.39" height="9.36" fill="#616161"/><rect x="264.49" y="249.98" width="9.39" height="9.36" fill="#616161"/><rect x="273.78" y="249.98" width="9.39" height="9.36" fill="#666666"/><rect x="283.07" y="249.98" width="9.39" height="9.36" fill="#8c8c8c"/><rect x="292.37" y="249.98" width="9.39" height="9.36" fill="#949494"/><rect x="301.66" y="249.98" width="9.39" height="9.36" fill="#6b6b6b"/><rect x="310.95" y="249.98" width="9.39" height="9.36" fill="#6b6b6b"/><rect x="190.16" y="259.24" width="9.39" height="9.36" fill="#4c4c4c"/><rect x="199.45" y="259.24" width="9.39" height="9.36" fill="#4c4c4c"/><rect x="208.74" y="259.24" width="9.39" height="9.36" fill="#4c4c4c"/><rect x="218.03" y="259.24" width="9.39" height="9.36" fill="#474747"/><rect x="227.32" y="259.24" width="9.39" height="9.36" fill="#4c4c4c"/><rect x="236.62" y="259.24" width="9.39" height="9.36" fill="#575757"/><rect x="245.91" y="259.24" width="9.39" height="9.36" fill="#616161"/><rect x="255.20" y="259.24" width="9.39" height="9.36" fill="#666666"/><rect x="264.49" y="259.24" width="9.39" height="9.36" fill="#666666"/><rect x="273.78" y="259.24" width="9.39" height="9.36" fill="#6b6b6b"/><rect x="283.07" y="259.24" width="9.39" height="9.36" fill="#808080"/><rect x="292.37" y="259.24" width="9.39" height="9.36" fill="#bfbfbf"/><rect x="301.66" y="259.24" width="9.39" height="9.36" fill="#737373"/><rect x="310.95" y="259.24" width="9.39" height="9.36" fill="#737373"/><rect x="190.16" y="268.50" width="9.39" height="9.36" fill="#4c4c4c"/><rect x="199.45" y="268.50" width="9.39" height="9.36" fill="#4c4c4c"/><rect x="208.74" y="268.50" width="9.39" height="9.36" fill="#4c4c4c"/><rect x="218.03" y="268.50" width="9.39" height="9.36" fill="#474747"/><rect x="227.32" y="268.50" width="9.39" height="9.36" fill="#4c4c4c"/><rect x="236.62" y="268.50" width="9.39" height="9.36" fill="#575757"/><rect x="245.91" y="268.50" width="9.39" height="9.36" fill="#616161"/><rect x="255.20" y="268.50" width="9.39" height="9.36" fill="#666666"/><rect x="264.49" y="268.50" width="9.39" height="9.36" fill="#666666"/><rect x="273.78" y="268.50" width="9.39" height="9.36" fill="#6b6b6b"/><rect x="283.07" y="268.50" width="9.39" height="9.36" fill="#808080"/><rect x="292.37" y="268.50" width="9.39" height="9.36" fill="#bfbfbf"/><rect x="301.66" y="268.50" width="9.39" height="9.36" fill="#737373"/><rect x="310.95" y="268.50" width="9.39" height="9.36" fill="#737373"/></g><g filter="url(#ff)"><polyline points="298.50,193.95 296.90,205.95 294.50,217.95 295.00,225.95 294.50,233.95 292.50,241.95" fill="none" stroke="#cccccc" stroke-width="4.00" stroke-linejoin="round" stroke-linecap="round"/><polyline points="292.50,241.95 290.50,247.95 290.00,255.95 289.50,268.95" fill="none" stroke="#a3a3a3" stroke-width="2.50" stroke-linejoin="round" stroke-linecap="round"/><polyline points="292.50,241.95 294.50,250.95 296.00,257.95 296.00,268.95" fill="none" stroke="#cccccc" stroke-width="3.00" stroke-linejoin="round" stroke-linecap="round"/><polyline points="273.50,222.95 281.50,225.95 289.50,227.95" fill="none" stroke="#adadad" stroke-width="2.50" stroke-linejoin="round" stroke-linecap="round"/><polyline points="285.20,219.25 278.50,242.65 275.20,268.95" fill="none" stroke="#8c8c8c" stroke-width="2.00" stroke-linejoin="round" stroke-linecap="round"/><ellipse cx="244.50" cy="247.95" rx="2.50" ry="2.50" fill="#333333"/><polyline points="219.50,206.95 227.50,207.45 237.50,210.95 247.50,210.95 257.50,209.95 267.50,210.45" fill="none" stroke="#b8b8b8" stroke-width="2.50" stroke-linejoin="round" stroke-linecap="round"/><polyline points="233.50,197.95 241.50,198.95 249.50,202.45 255.50,203.95" fill="none" stroke="#b2b2b2" stroke-width="2.20" stroke-linejoin="round" stroke-linecap="round"/><ellipse cx="248.90" cy="189.05" rx="2.00" ry="2.00" fill="#4c4c4c"/><polyline points="274.50,187.95 281.50,186.95 289.50,189.95" fill="none" stroke="#cccccc" stroke-width="3.50" stroke-linejoin="round" stroke-linecap="round"/><ellipse cx="202.50" cy="205.95" rx="3.50" ry="4.00" fill="#cccccc"/><polyline points="201.00,248.95 209.50,248.45 219.50,249.45 237.50,248.95" fill="none" stroke="#383838" stroke-width="1.80" stroke-linejoin="round" stroke-linecap="round"/><polyline points="211.50,263.45 219.50,262.95 227.50,263.95 247.50,263.45" fill="none" stroke="#383838" stroke-width="1.60" stroke-linejoin="round" stroke-linecap="round"/><ellipse cx="203.00" cy="225.95" rx="4.00" ry="4.00" fill="#a8a8a8"/></g></g></g>
<g clip-path="url(#cpe)" transform="translate(0.00,0.00)">
<g transform="translate(199.50,175.95)">
<polygon points="4.20,-1.00 4.60,9.00 7.00,17.90 9.50,23.30 14.20,28.70 21.00,33.40 28.40,37.20 34.80,40.50 40.80,43.80 44.00,46.00 44.00,47.50 42.00,48.00 40.30,47.50 34.90,43.90 28.70,40.30 21.50,36.70 15.20,33.20 9.90,28.70 6.30,23.30 3.20,17.90 1.40,10.00 1.20,-1.00" fill="#ffffff" fill-opacity="0.92" filter="url(#fs)"/>
<polyline points="0.30,-1.00 0.40,10.00 2.40,18.30 5.60,23.80 9.30,29.30 14.70,33.80 21.10,37.30 28.30,40.90 34.50,44.50 40.00,48.20 46.60,53.90 50.80,58.10 55.00,61.30 57.20,65.50 57.80,76.10 58.20,93.00" fill="none" stroke="#0005ff" stroke-width="1.30" stroke-opacity="1.00" stroke-linejoin="round" stroke-linecap="round" filter="url(#fs)"/>
<polyline points="59.00,61.50 59.30,75.00 59.50,93.00" fill="none" stroke="#800000" stroke-width="0.00" stroke-opacity="0.00" stroke-linejoin="round" stroke-linecap="round" filter="url(#fs)"/>
<polyline points="59,61.5 59.3,75 59.5,93" fill="none" stroke="#fff" stroke-width="2.4" filter="url(#fs)"/>
<path d="M0.9,93 L0.9,89.5 Q1,88.4 3,88.4 L8.5,88.4 Q10.6,88.6 10.6,90.5 L10.6,93 Z" fill="#fff" filter="url(#fs)"/>
</g></g>
<rect x="199.50" y="175.95" width="111.50" height="92.60" fill="none" stroke="#444" stroke-width="0.6" stroke-opacity="0.7"/>
<text x="199.60" y="169.65" font-size="10" font-weight="bold" fill="#000">(e)</text>
<rect x="318.10" y="176.45" width="14.50" height="92.30" fill="#ececf0"/>
<rect x="318.10" y="176.45" width="14.50" height="90.40" fill="url(#jetg)"/>
<rect x="318.10" y="176.45" width="14.50" height="92.30" fill="none" stroke="#666" stroke-width="0.5" stroke-opacity="0.7"/>
<text x="334.90" y="179.35" font-size="7.9" fill="#222" stroke="#222" stroke-width="0.18">314</text>
<line x1="331.20" y1="191.85" x2="332.60" y2="191.85" stroke="#222" stroke-width="0.6" stroke-opacity="0.8"/>
<text x="334.90" y="194.60" font-size="7.9" fill="#222" stroke="#222" stroke-width="0.18">312</text>
<line x1="331.20" y1="207.10" x2="332.60" y2="207.10" stroke="#222" stroke-width="0.6" stroke-opacity="0.8"/>
<text x="334.90" y="209.85" font-size="7.9" fill="#222" stroke="#222" stroke-width="0.18">310</text>
<line x1="331.20" y1="222.35" x2="332.60" y2="222.35" stroke="#222" stroke-width="0.6" stroke-opacity="0.8"/>
<text x="334.90" y="225.10" font-size="7.9" fill="#222" stroke="#222" stroke-width="0.18">308</text>
<line x1="331.20" y1="237.60" x2="332.60" y2="237.60" stroke="#222" stroke-width="0.6" stroke-opacity="0.8"/>
<text x="334.90" y="240.35" font-size="7.9" fill="#222" stroke="#222" stroke-width="0.18">306</text>
<line x1="331.20" y1="252.85" x2="332.60" y2="252.85" stroke="#222" stroke-width="0.6" stroke-opacity="0.8"/>
<text x="334.90" y="255.60" font-size="7.9" fill="#222" stroke="#222" stroke-width="0.18">304</text>
<text x="334.90" y="270.85" font-size="7.9" fill="#222" stroke="#222" stroke-width="0.18">302</text>
<text x="0" y="0" font-size="7.6" fill="#222" stroke="#222" stroke-width="0.15" text-anchor="middle" transform="translate(355.50,223.00) rotate(-90)">Ts (K)</text>
<g clip-path="url(#cpf)"><g filter="url(#fjf)"><rect x="385.80" y="175.95" width="111.50" height="92.60" fill="#808080"/><g filter="url(#fb)"><rect x="376.46" y="166.64" width="9.39" height="9.36" fill="#a8a8a8"/><rect x="385.75" y="166.64" width="9.39" height="9.36" fill="#a8a8a8"/><rect x="395.04" y="166.64" width="9.39" height="9.36" fill="#b2b2b2"/><rect x="404.33" y="166.64" width="9.39" height="9.36" fill="#bdbdbd"/><rect x="413.62" y="166.64" width="9.39" height="9.36" fill="#c7c7c7"/><rect x="422.92" y="166.64" width="9.39" height="9.36" fill="#cccccc"/><rect x="432.21" y="166.64" width="9.39" height="9.36" fill="#d1d1d1"/><rect x="441.50" y="166.64" width="9.39" height="9.36" fill="#c2c2c2"/><rect x="450.79" y="166.64" width="9.39" height="9.36" fill="#c2c2c2"/><rect x="460.08" y="166.64" width="9.39" height="9.36" fill="#cccccc"/><rect x="469.38" y="166.64" width="9.39" height="9.36" fill="#c7c7c7"/><rect x="478.67" y="166.64" width="9.39" height="9.36" fill="#bdbdbd"/><rect x="487.96" y="166.64" width="9.39" height="9.36" fill="#b8b8b8"/><rect x="497.25" y="166.64" width="9.39" height="9.36" fill="#b8b8b8"/><rect x="376.46" y="175.90" width="9.39" height="9.36" fill="#a8a8a8"/><rect x="385.75" y="175.90" width="9.39" height="9.36" fill="#a8a8a8"/><rect x="395.04" y="175.90" width="9.39" height="9.36" fill="#b2b2b2"/><rect x="404.33" y="175.90" width="9.39" height="9.36" fill="#bdbdbd"/><rect x="413.62" y="175.90" width="9.39" height="9.36" fill="#c7c7c7"/><rect x="422.92" y="175.90" width="9.39" height="9.36" fill="#cccccc"/><rect x="432.21" y="175.90" width="9.39" height="9.36" fill="#d1d1d1"/><rect x="441.50" y="175.90" width="9.39" height="9.36" fill="#c2c2c2"/><rect x="450.79" y="175.90" width="9.39" height="9.36" fill="#c2c2c2"/><rect x="460.08" y="175.90" width="9.39" height="9.36" fill="#cccccc"/><rect x="469.38" y="175.90" width="9.39" height="9.36" fill="#c7c7c7"/><rect x="478.67" y="175.90" width="9.39" height="9.36" fill="#bdbdbd"/><rect x="487.96" y="175.90" width="9.39" height="9.36" fill="#b8b8b8"/><rect x="497.25" y="175.90" width="9.39" height="9.36" fill="#b8b8b8"/><rect x="376.46" y="185.16" width="9.39" height="9.36" fill="#b8b8b8"/><rect x="385.75" y="185.16" width="9.39" height="9.36" fill="#b8b8b8"/><rect x="395.04" y="185.16" width="9.39" height="9.36" fill="#bdbdbd"/><rect x="404.33" y="185.16" width="9.39" height="9.36" fill="#c7c7c7"/><rect x="413.62" y="185.16" width="9.39" height="9.36" fill="#cccccc"/><rect x="422.92" y="185.16" width="9.39" height="9.36" fill="#c7c7c7"/><rect x="432.21" y="185.16" width="9.39" height="9.36" fill="#d1d1d1"/><rect x="441.50" y="185.16" width="9.39" height="9.36" fill="#d6d6d6"/><rect x="450.79" y="185.16" width="9.39" height="9.36" fill="#d6d6d6"/><rect x="460.08" y="185.16" width="9.39" height="9.36" fill="#cccccc"/><rect x="469.38" y="185.16" width="9.39" height="9.36" fill="#d6d6d6"/><rect x="478.67" y="185.16" width="9.39" height="9.36" fill="#c2c2c2"/><rect x="487.96" y="185.16" width="9.39" height="9.36" fill="#bdbdbd"/><rect x="497.25" y="185.16" width="9.39" height="9.36" fill="#bdbdbd"/><rect x="376.46" y="194.42" width="9.39" height="9.36" fill="#b8b8b8"/><rect x="385.75" y="194.42" width="9.39" height="9.36" fill="#b8b8b8"/><rect x="395.04" y="194.42" width="9.39" height="9.36" fill="#c7c7c7"/><rect x="404.33" y="194.42" width="9.39" height="9.36" fill="#c2c2c2"/><rect x="413.62" y="194.42" width="9.39" height="9.36" fill="#c7c7c7"/><rect x="422.92" y="194.42" width="9.39" height="9.36" fill="#cccccc"/><rect x="432.21" y="194.42" width="9.39" height="9.36" fill="#d6d6d6"/><rect x="441.50" y="194.42" width="9.39" height="9.36" fill="#dbdbdb"/><rect x="450.79" y="194.42" width="9.39" height="9.36" fill="#dbdbdb"/><rect x="460.08" y="194.42" width="9.39" height="9.36" fill="#d6d6d6"/><rect x="469.38" y="194.42" width="9.39" height="9.36" fill="#d6d6d6"/><rect x="478.67" y="194.42" width="9.39" height="9.36" fill="#c7c7c7"/><rect x="487.96" y="194.42" width="9.39" height="9.36" fill="#bdbdbd"/><rect x="497.25" y="194.42" width="9.39" height="9.36" fill="#bdbdbd"/><rect x="376.46" y="203.68" width="9.39" height="9.36" fill="#c2c2c2"/><rect x="385.75" y="203.68" width="9.39" height="9.36" fill="#c2c2c2"/><rect x="395.04" y="203.68" width="9.39" height="9.36" fill="#bdbdbd"/><rect x="404.33" y="203.68" width="9.39" height="9.36" fill="#b8b8b8"/><rect x="413.62" y="203.68" width="9.39" height="9.36" fill="#bdbdbd"/><rect x="422.92" y="203.68" width="9.39" height="9.36" fill="#c7c7c7"/><rect x="432.21" y="203.68" width="9.39" height="9.36" fill="#d1d1d1"/><rect x="441.50" y="203.68" width="9.39" height="9.36" fill="#cccccc"/><rect x="450.79" y="203.68" width="9.39" height="9.36" fill="#d6d6d6"/><rect x="460.08" y="203.68" width="9.39" height="9.36" fill="#d1d1d1"/><rect x="469.38" y="203.68" width="9.39" height="9.36" fill="#cccccc"/><rect x="478.67" y="203.68" width="9.39" height="9.36" fill="#bdbdbd"/><rect x="487.96" y="203.68" width="9.39" height="9.36" fill="#b2b2b2"/><rect x="497.25" y="203.68" width="9.39" height="9.36" fill="#b2b2b2"/><rect x="376.46" y="212.94" width="9.39" height="9.36" fill="#bdbdbd"/><rect x="385.75" y="212.94" width="9.39" height="9.36" fill="#bdbdbd"/><rect x="395.04" y="212.94" width="9.39" height="9.36" fill="#c2c2c2"/><rect x="404.33" y="212.94" width="9.39" height="9.36" fill="#b8b8b8"/><rect x="413.62" y="212.94" width="9.39" height="9.36" fill="#bdbdbd"/><rect x="422.92" y="212.94" width="9.39" height="9.36" fill="#bdbdbd"/><rect x="432.21" y="212.94" width="9.39" height="9.36" fill="#bdbdbd"/><rect x="441.50" y="212.94" width="9.39" height="9.36" fill="#bdbdbd"/><rect x="450.79" y="212.94" width="9.39" height="9.36" fill="#c7c7c7"/><rect x="460.08" y="212.94" width="9.39" height="9.36" fill="#bdbdbd"/><rect x="469.38" y="212.94" width="9.39" height="9.36" fill="#bdbdbd"/><rect x="478.67" y="212.94" width="9.39" height="9.36" fill="#adadad"/><rect x="487.96" y="212.94" width="9.39" height="9.36" fill="#a8a8a8"/><rect x="497.25" y="212.94" width="9.39" height="9.36" fill="#a8a8a8"/><rect x="376.46" y="222.20" width="9.39" height="9.36" fill="#adadad"/><rect x="385.75" y="222.20" width="9.39" height="9.36" fill="#adadad"/><rect x="395.04" y="222.20" width="9.39" height="9.36" fill="#b8b8b8"/><rect x="404.33" y="222.20" width="9.39" height="9.36" fill="#b2b2b2"/><rect x="413.62" y="222.20" width="9.39" height="9.36" fill="#bdbdbd"/><rect x="422.92" y="222.20" width="9.39" height="9.36" fill="#c2c2c2"/><rect x="432.21" y="222.20" width="9.39" height="9.36" fill="#b2b2b2"/><rect x="441.50" y="222.20" width="9.39" height="9.36" fill="#a8a8a8"/><rect x="450.79" y="222.20" width="9.39" height="9.36" fill="#adadad"/><rect x="460.08" y="222.20" width="9.39" height="9.36" fill="#b2b2b2"/><rect x="469.38" y="222.20" width="9.39" height="9.36" fill="#c2c2c2"/><rect x="478.67" y="222.20" width="9.39" height="9.36" fill="#b8b8b8"/><rect x="487.96" y="222.20" width="9.39" height="9.36" fill="#a8a8a8"/><rect x="497.25" y="222.20" width="9.39" height="9.36" fill="#a8a8a8"/><rect x="376.46" y="231.46" width="9.39" height="9.36" fill="#9e9e9e"/><rect x="385.75" y="231.46" width="9.39" height="9.36" fill="#9e9e9e"/><rect x="395.04" y="231.46" width="9.39" height="9.36" fill="#a8a8a8"/><rect x="404.33" y="231.46" width="9.39" height="9.36" fill="#a8a8a8"/><rect x="413.62" y="231.46" width="9.39" height="9.36" fill="#adadad"/><rect x="422.92" y="231.46" width="9.39" height="9.36" fill="#9e9e9e"/><rect x="432.21" y="231.46" width="9.39" height="9.36" fill="#a3a3a3"/><rect x="441.50" y="231.46" width="9.39" height="9.36" fill="#9e9e9e"/><rect x="450.79" y="231.46" width="9.39" height="9.36" fill="#9e9e9e"/><rect x="460.08" y="231.46" width="9.39" height="9.36" fill="#a6a6a6"/><rect x="469.38" y="231.46" width="9.39" height="9.36" fill="#b2b2b2"/><rect x="478.67" y="231.46" width="9.39" height="9.36" fill="#9e9e9e"/><rect x="487.96" y="231.46" width="9.39" height="9.36" fill="#9e9e9e"/><rect x="497.25" y="231.46" width="9.39" height="9.36" fill="#9e9e9e"/><rect x="376.46" y="240.72" width="9.39" height="9.36" fill="#8f8f8f"/><rect x="385.75" y="240.72" width="9.39" height="9.36" fill="#8f8f8f"/><rect x="395.04" y="240.72" width="9.39" height="9.36" fill="#999999"/><rect x="404.33" y="240.72" width="9.39" height="9.36" fill="#8f8f8f"/><rect x="413.62" y="240.72" width="9.39" height="9.36" fill="#858585"/><rect x="422.92" y="240.72" width="9.39" height="9.36" fill="#999999"/><rect x="432.21" y="240.72" width="9.39" height="9.36" fill="#9e9e9e"/><rect x="441.50" y="240.72" width="9.39" height="9.36" fill="#949494"/><rect x="450.79" y="240.72" width="9.39" height="9.36" fill="#999999"/><rect x="460.08" y="240.72" width="9.39" height="9.36" fill="#999999"/><rect x="469.38" y="240.72" width="9.39" height="9.36" fill="#a3a3a3"/><rect x="478.67" y="240.72" width="9.39" height="9.36" fill="#8f8f8f"/><rect x="487.96" y="240.72" width="9.39" height="9.36" fill="#8f8f8f"/><rect x="497.25" y="240.72" width="9.39" height="9.36" fill="#8f8f8f"/><rect x="376.46" y="249.98" width="9.39" height="9.36" fill="#757575"/><rect x="385.75" y="249.98" width="9.39" height="9.36" fill="#757575"/><rect x="395.04" y="249.98" width="9.39" height="9.36" fill="#8c8c8c"/><rect x="404.33" y="249.98" width="9.39" height="9.36" fill="#808080"/><rect x="413.62" y="249.98" width="9.39" height="9.36" fill="#8c8c8c"/><rect x="422.92" y="249.98" width="9.39" height="9.36" fill="#949494"/><rect x="432.21" y="249.98" width="9.39" height="9.36" fill="#8f8f8f"/><rect x="441.50" y="249.98" width="9.39" height="9.36" fill="#757575"/><rect x="450.79" y="249.98" width="9.39" height="9.36" fill="#8a8a8a"/><rect x="460.08" y="249.98" width="9.39" height="9.36" fill="#8f8f8f"/><rect x="469.38" y="249.98" width="9.39" height="9.36" fill="#999999"/><rect x="478.67" y="249.98" width="9.39" height="9.36" fill="#8a8a8a"/><rect x="487.96" y="249.98" width="9.39" height="9.36" fill="#8c8c8c"/><rect x="497.25" y="249.98" width="9.39" height="9.36" fill="#8c8c8c"/><rect x="376.46" y="259.24" width="9.39" height="9.36" fill="#737373"/><rect x="385.75" y="259.24" width="9.39" height="9.36" fill="#737373"/><rect x="395.04" y="259.24" width="9.39" height="9.36" fill="#808080"/><rect x="404.33" y="259.24" width="9.39" height="9.36" fill="#757575"/><rect x="413.62" y="259.24" width="9.39" height="9.36" fill="#858585"/><rect x="422.92" y="259.24" width="9.39" height="9.36" fill="#949494"/><rect x="432.21" y="259.24" width="9.39" height="9.36" fill="#8c8c8c"/><rect x="441.50" y="259.24" width="9.39" height="9.36" fill="#707070"/><rect x="450.79" y="259.24" width="9.39" height="9.36" fill="#7a7a7a"/><rect x="460.08" y="259.24" width="9.39" height="9.36" fill="#808080"/><rect x="469.38" y="259.24" width="9.39" height="9.36" fill="#949494"/><rect x="478.67" y="259.24" width="9.39" height="9.36" fill="#808080"/><rect x="487.96" y="259.24" width="9.39" height="9.36" fill="#858585"/><rect x="497.25" y="259.24" width="9.39" height="9.36" fill="#858585"/><rect x="376.46" y="268.50" width="9.39" height="9.36" fill="#737373"/><rect x="385.75" y="268.50" width="9.39" height="9.36" fill="#737373"/><rect x="395.04" y="268.50" width="9.39" height="9.36" fill="#808080"/><rect x="404.33" y="268.50" width="9.39" height="9.36" fill="#757575"/><rect x="413.62" y="268.50" width="9.39" height="9.36" fill="#858585"/><rect x="422.92" y="268.50" width="9.39" height="9.36" fill="#949494"/><rect x="432.21" y="268.50" width="9.39" height="9.36" fill="#8c8c8c"/><rect x="441.50" y="268.50" width="9.39" height="9.36" fill="#707070"/><rect x="450.79" y="268.50" width="9.39" height="9.36" fill="#7a7a7a"/><rect x="460.08" y="268.50" width="9.39" height="9.36" fill="#808080"/><rect x="469.38" y="268.50" width="9.39" height="9.36" fill="#949494"/><rect x="478.67" y="268.50" width="9.39" height="9.36" fill="#808080"/><rect x="487.96" y="268.50" width="9.39" height="9.36" fill="#858585"/><rect x="497.25" y="268.50" width="9.39" height="9.36" fill="#858585"/></g><g filter="url(#ff)"><ellipse cx="474.10" cy="220.25" rx="3.00" ry="2.50" fill="#808080"/><polyline points="386.30,174.95 386.60,187.95" fill="none" stroke="#6b6b6b" stroke-width="2.00" stroke-linejoin="round" stroke-linecap="round"/><ellipse cx="479.30" cy="227.95" rx="4.00" ry="3.50" fill="#d6d6d6"/><polyline points="479.50,237.95 479.30,253.95 479.00,268.95" fill="none" stroke="#757575" stroke-width="1.00" stroke-linejoin="round" stroke-linecap="round"/><polyline points="397.80,246.95 405.80,245.95 411.80,247.45" fill="none" stroke="#737373" stroke-width="1.40" stroke-linejoin="round" stroke-linecap="round"/></g></g></g>
<g clip-path="url(#cpf)" transform="translate(0.00,0.00)">
<g transform="translate(385.80,175.95)">
<polyline points="-1.00,13.80 1.80,19.60 4.50,24.00 8.00,27.60 11.00,30.50 14.50,33.00 19.50,35.20 26.40,38.20 32.90,42.00 38.00,44.60 41.50,47.50 45.50,53.30 50.30,57.10 54.10,60.00 55.60,63.70" fill="none" stroke="#00b2ff" stroke-width="1.80" stroke-opacity="1.00" stroke-linejoin="round" stroke-linecap="round" filter="url(#fs)"/>
<polyline points="55.60,63.70 56.60,67.50 57.00,71.30 57.20,78.90 57.50,86.50 57.80,93.00" fill="none" stroke="#2effd1" stroke-width="1.20" stroke-opacity="1.00" stroke-linejoin="round" stroke-linecap="round" filter="url(#fs)"/>
</g></g>
<rect x="385.80" y="175.95" width="111.50" height="92.60" fill="none" stroke="#444" stroke-width="0.6" stroke-opacity="0.7"/>
<text x="385.90" y="169.65" font-size="10" font-weight="bold" fill="#000">(f)</text>
<rect x="504.60" y="176.45" width="14.50" height="92.30" fill="#ececf0"/>
<rect x="504.60" y="176.45" width="14.50" height="90.40" fill="url(#jetg)"/>
<rect x="504.60" y="176.45" width="14.50" height="92.30" fill="none" stroke="#666" stroke-width="0.5" stroke-opacity="0.7"/>
<line x1="517.70" y1="181.30" x2="519.10" y2="181.30" stroke="#222" stroke-width="0.6" stroke-opacity="0.8"/>
<text x="521.40" y="184.05" font-size="7.9" fill="#222" stroke="#222" stroke-width="0.18">325</text>
<line x1="517.70" y1="205.40" x2="519.10" y2="205.40" stroke="#222" stroke-width="0.6" stroke-opacity="0.8"/>
<text x="521.40" y="208.15" font-size="7.9" fill="#222" stroke="#222" stroke-width="0.18">320</text>
<line x1="517.70" y1="229.50" x2="519.10" y2="229.50" stroke="#222" stroke-width="0.6" stroke-opacity="0.8"/>
<text x="521.40" y="232.25" font-size="7.9" fill="#222" stroke="#222" stroke-width="0.18">315</text>
<line x1="517.70" y1="253.60" x2="519.10" y2="253.60" stroke="#222" stroke-width="0.6" stroke-opacity="0.8"/>
<text x="521.40" y="256.35" font-size="7.9" fill="#222" stroke="#222" stroke-width="0.18">310</text>
<text x="0" y="0" font-size="7.6" fill="#222" stroke="#222" stroke-width="0.15" text-anchor="middle" transform="translate(542.00,223.00) rotate(-90)">Ts (K)</text>
</svg></body></html>
